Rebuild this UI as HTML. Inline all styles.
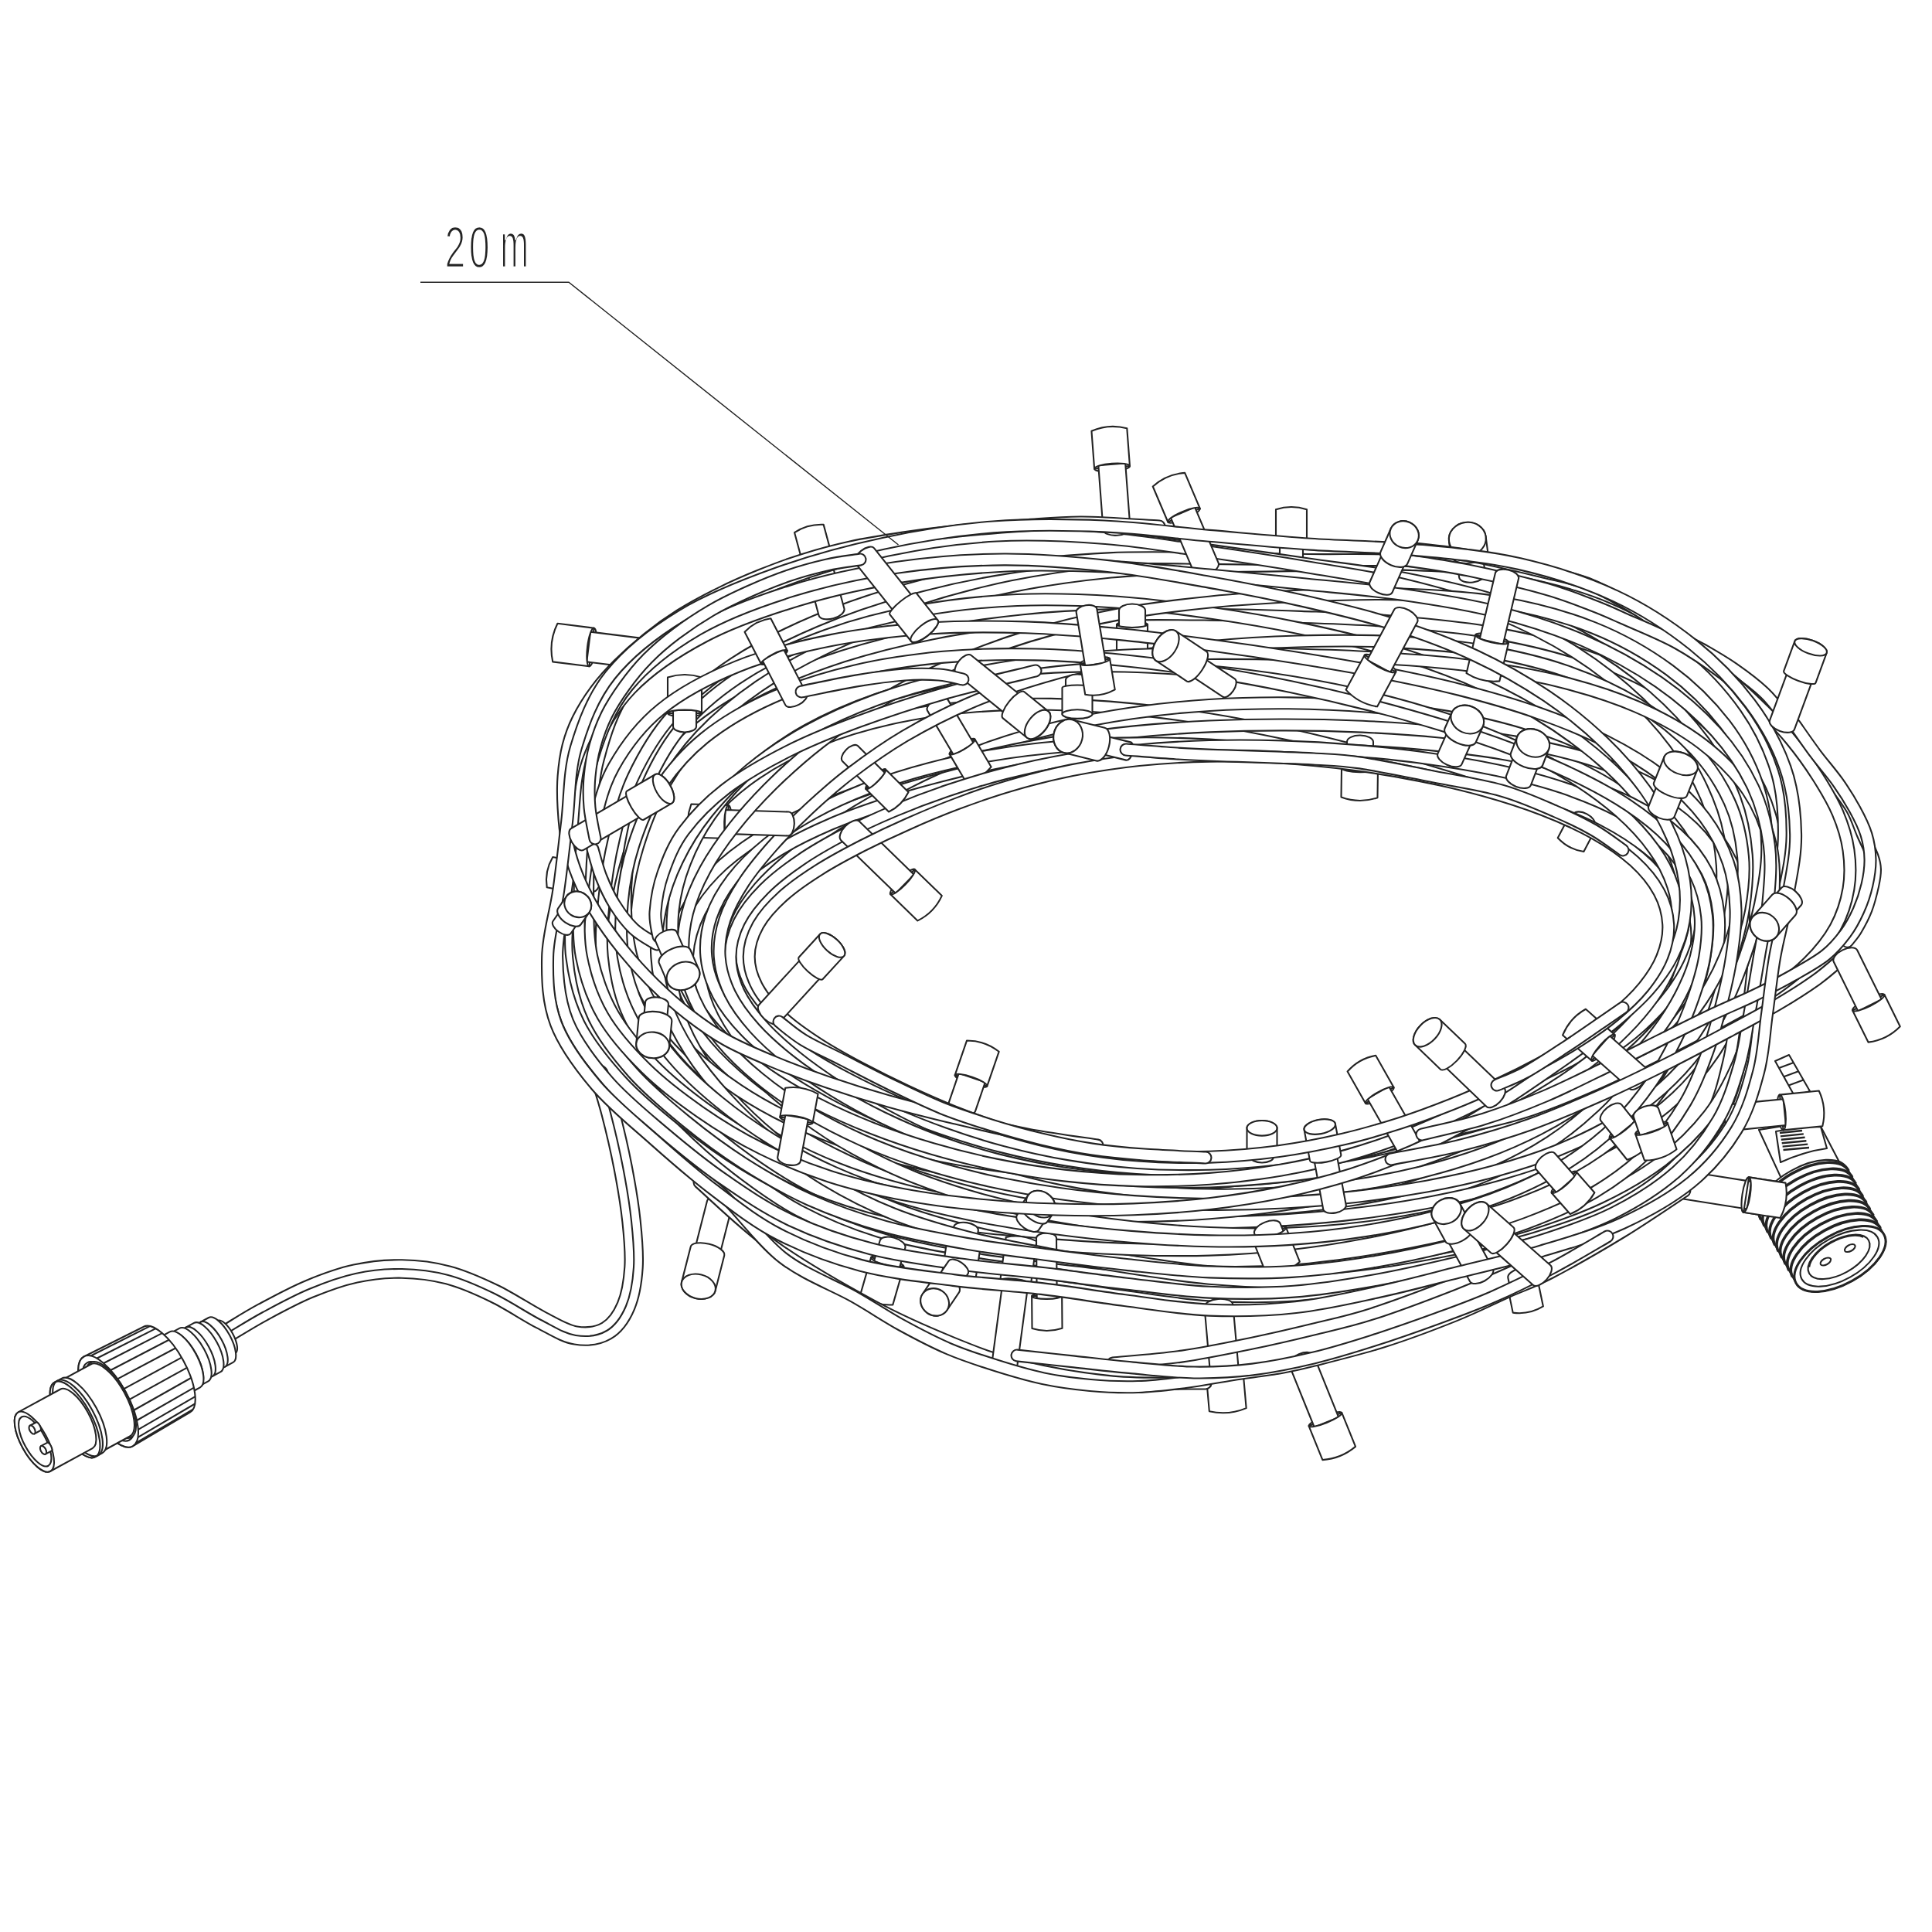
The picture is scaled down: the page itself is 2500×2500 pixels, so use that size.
<!DOCTYPE html><html><head><meta charset="utf-8"><title>20 m</title>
<style>html,body{margin:0;padding:0;background:#fff}svg{display:block}.o{fill:none;stroke:#232323;stroke-width:17;stroke-linecap:round;stroke-linejoin:round}.i{fill:none;stroke:#fff;stroke-width:12.8;stroke-linecap:round;stroke-linejoin:round}.b{stroke-linecap:butt}.l{fill:#fff;stroke:#232323;stroke-width:2.1;stroke-linejoin:round}.t text{font-family:"Liberation Sans",sans-serif;font-size:75.5px;fill:#232323;stroke:#fff;stroke-width:2.4px;paint-order:fill stroke}</style>
</head><body>
<svg width="2500" height="2500" viewBox="0 0 2500 2500">
<defs><path id="w1" d="M296 1724C303.3 1719.7 322.7 1707.3 340 1698C357.3 1688.7 380 1676.3 400 1668C420 1659.7 440 1652.3 460 1648C480 1643.7 500 1641.7 520 1642C540 1642.3 560 1644.7 580 1650C600 1655.3 620 1664.3 640 1674C660 1683.7 682.5 1699 700 1708C717.5 1717 730.8 1725.7 745 1728C759.2 1730.3 774.2 1728.3 785 1722C795.8 1715.7 804.2 1703.7 810 1690C815.8 1676.3 818.8 1658.3 820 1640C821.2 1621.7 819.3 1601.7 817 1580C814.7 1558.3 810.5 1533.3 806 1510C801.5 1486.7 795.2 1460 790 1440C784.8 1420 777.5 1398.3 775 1390"/><path id="w2" d="M1500 681C1483.3 680.2 1429.2 676.2 1400 676C1370.8 675.8 1351.7 678.2 1325 680C1298.3 681.8 1266 684.3 1240 687C1214 689.7 1192.3 692.5 1169 696C1145.7 699.5 1121.5 703.3 1100 708C1078.5 712.7 1059.2 718 1040 724C1020.8 730 1003.2 736.7 985 744C966.8 751.3 948.5 759.3 931 768C913.5 776.7 895.5 786.3 880 796C864.5 805.7 851.3 815.3 838 826C824.7 836.7 811.2 848.8 800 860C788.8 871.2 779.7 881.3 771 893C762.3 904.7 754 918 748 930C742 942 738.2 952.5 735 965C731.8 977.5 730 991.7 729 1005C728 1018.3 728.2 1030.8 729 1045C729.8 1059.2 730.8 1075 734 1090C737.2 1105 741.8 1120 748 1135C754.2 1150 761.3 1164.3 771 1180C780.7 1195.7 793.5 1213.5 806 1229C818.5 1244.5 832 1259.2 846 1273C860 1286.8 874.3 1299.8 890 1312C905.7 1324.2 921.5 1335.7 940 1346C958.5 1356.3 979.3 1365 1001 1374C1022.7 1383 1045.2 1391.5 1070 1400C1094.8 1408.5 1122.3 1417.2 1150 1425C1177.7 1432.8 1206 1439.8 1236 1447C1266 1454.2 1299.3 1462.2 1330 1468C1360.7 1473.8 1405 1479.7 1420 1482"/><path id="w3" d="M767 1099C768.8 1105 773.3 1123.2 778 1135C782.7 1146.8 788 1158.8 795 1170C802 1181.2 810.8 1193.3 820 1202C829.2 1210.7 845 1218.7 850 1222"/><path id="w4" d="M1340 868C1320 873 1258.3 887 1220 898C1181.7 909 1143.3 921.7 1110 934C1076.7 946.3 1048.3 957.7 1020 972C991.7 986.3 962.5 1002.8 940 1020C917.5 1037.2 898.7 1056.7 885 1075C871.3 1093.3 864.2 1112.5 858 1130C851.8 1147.5 849 1166.3 848 1180C847 1193.7 851.3 1206.7 852 1212"/><path id="w5" d="M2322 937C2326.5 943.3 2339.7 962.5 2349 975C2358.3 987.5 2369.5 1000 2378 1012C2386.5 1024 2393.8 1035.7 2400 1047C2406.2 1058.3 2411.7 1069.2 2415 1080C2418.3 1090.8 2419.8 1101.2 2420 1112C2420.2 1122.8 2418.5 1134 2416 1145C2413.5 1156 2409.7 1167.5 2405 1178C2400.3 1188.5 2395.2 1198.3 2388 1208C2380.8 1217.7 2373.3 1227 2362 1236C2350.7 1245 2335.3 1253.3 2320 1262C2304.7 1270.7 2287.5 1279.5 2270 1288C2252.5 1296.5 2235 1303.5 2215 1313C2195 1322.5 2172.5 1333.8 2150 1345C2127.5 1356.2 2105 1367.8 2080 1380C2055 1392.2 2026.7 1406.7 2000 1418C1973.3 1429.3 1946.7 1439.7 1920 1448C1893.3 1456.3 1853.3 1464.7 1840 1468"/><path id="w6" d="M1805.9 707.4C1821.3 709.3 1866.4 712.9 1898.4 718.4C1930.4 723.8 1971.1 733.8 1997.8 740.2C2024.5 746.6 2038.2 748.7 2058.4 756.8C2078.7 765 2102 778.9 2119.1 789.2C2136.2 799.4 2147.2 809.6 2161 818.1C2174.9 826.6 2188.7 832.5 2202.3 840.2C2215.9 848 2229 855.4 2242.6 864.8C2256.1 874.2 2271.9 885.9 2283.4 896.9C2294.9 907.9 2301.8 918.1 2311.5 930.8C2321.1 943.4 2330.9 958.5 2341.4 972.7C2351.8 986.8 2365.1 1003.1 2374.4 1015.6C2383.6 1028.1 2390.7 1037 2396.7 1047.6C2402.7 1058.3 2405.9 1069.7 2410.3 1079.8C2414.7 1089.9 2420.3 1100.5 2423 1108.1C2425.7 1115.7 2426.4 1118.9 2426.5 1125.2C2426.6 1131.5 2425.6 1137.4 2423.7 1146C2421.8 1154.5 2418.8 1167.1 2415.1 1176.6C2411.5 1186.1 2405.9 1196.2 2401.8 1203.2C2397.7 1210.1 2392.3 1215.8 2390.4 1218.3"/><path id="w7" d="M1800 722C1816.7 724.7 1866.7 731.3 1900 738C1933.3 744.7 1973.3 754.5 2000 762C2026.7 769.5 2043.3 776.7 2060 783C2076.7 789.3 2081.7 791.8 2100 800C2118.3 808.2 2148.3 820 2170 832C2191.7 844 2212.5 858.7 2230 872C2247.5 885.3 2260.3 897.7 2275 912C2289.7 926.3 2305.2 942.5 2318 958C2330.8 973.5 2342 989.3 2352 1005C2362 1020.7 2371.3 1036.2 2378 1052C2384.7 1067.8 2389.7 1083.7 2392 1100C2394.3 1116.3 2394.8 1133.3 2392 1150C2389.2 1166.7 2383.7 1184.2 2375 1200C2366.3 1215.8 2354.2 1230.8 2340 1245C2325.8 1259.2 2308.3 1272.5 2290 1285C2271.7 1297.5 2253.3 1307.2 2230 1320C2206.7 1332.8 2178.3 1347.8 2150 1362C2121.7 1376.2 2090 1392 2060 1405C2030 1418 2000 1430.5 1970 1440C1940 1449.5 1895 1458.3 1880 1462"/><path id="w8" d="M2384 1240C2378.3 1244.7 2364 1258 2350 1268C2336 1278 2318.3 1289.2 2300 1300C2281.7 1310.8 2263.3 1320.5 2240 1333C2216.7 1345.5 2188.3 1360.8 2160 1375C2131.7 1389.2 2100 1404.7 2070 1418C2040 1431.3 2010 1444.3 1980 1455C1950 1465.7 1920 1474.5 1890 1482C1860 1489.5 1815 1497 1800 1500"/><path id="w9" d="M891.8 1512.5C899.3 1518.3 916.4 1527.9 936.5 1547.1C956.7 1566.3 984.8 1605.7 1012.8 1627.5C1040.9 1649.3 1079.1 1663.2 1104.7 1677.7C1130.3 1692.3 1146.1 1703.4 1166.6 1714.7C1187.1 1725.9 1207.4 1736.6 1227.7 1745.3C1248.1 1754 1268.5 1760.5 1288.9 1766.9C1309.2 1773.3 1329.6 1779.4 1349.9 1783.7C1370.3 1788 1390.4 1790.7 1410.8 1792.5C1431.3 1794.3 1452.2 1795.2 1472.7 1794.5C1493.2 1793.8 1513.3 1791.2 1533.8 1788.6C1554.3 1785.9 1575 1781.8 1595.6 1778.6C1616.2 1775.5 1640.3 1772.6 1657.4 1769.6C1674.4 1766.7 1675.5 1766.4 1697.7 1760.8C1719.8 1755.2 1759.3 1745.7 1790.1 1735.9C1820.9 1726.2 1855.6 1713 1882.5 1702.2C1909.3 1691.4 1930.4 1680.6 1951.1 1671.3C1971.8 1662.1 1981.9 1659.5 2006.6 1646.6C2031.3 1633.7 2070.2 1611.5 2099.1 1593.9C2127.9 1576.3 2166.3 1549.9 2179.8 1541.1"/><path id="w10" d="M1316 1754C1328.3 1755.3 1365 1759.3 1390 1762C1415 1764.7 1440.2 1767.7 1466 1770C1491.8 1772.3 1519.2 1775.7 1545 1776C1570.8 1776.3 1595.2 1775.2 1621 1772C1646.8 1768.8 1674.2 1763.2 1700 1757C1725.8 1750.8 1749.3 1743.5 1776 1735C1802.7 1726.5 1834 1715.5 1860 1706C1886 1696.5 1907 1689 1932 1678C1957 1667 1985.3 1653 2010 1640C2034.7 1627 2068.3 1606.7 2080 1600"/><path id="w11" d="M905 1530C920.8 1543.7 962.7 1585.3 1000 1612C1037.3 1638.7 1090.2 1669 1129 1690C1167.8 1711 1201 1725 1233 1738C1265 1751 1286.5 1759.7 1321 1768C1355.5 1776.3 1400.2 1784.3 1440 1788C1479.8 1791.7 1540 1789.7 1560 1790"/><path id="w12" d="M1440 1764C1455 1762.5 1499.8 1759.3 1530 1755C1560.2 1750.7 1592.7 1743.8 1621 1738C1649.3 1732.2 1674.2 1726.3 1700 1720C1725.8 1713.7 1746 1709.7 1776 1700C1806 1690.3 1849.3 1674 1880 1662C1910.7 1650 1933.3 1640 1960 1628C1986.7 1616 2026.7 1596.3 2040 1590"/><path id="w13" d="M2178.8 1238C2176.3 1253.6 2170.7 1269.5 2164.2 1285.5C2157.7 1301.5 2149.4 1317.6 2139.8 1333.9C2130.2 1350.2 2119.6 1366.8 2106.8 1383.2C2094 1399.6 2080 1416.4 2063.1 1432.1C2046.3 1447.9 2027.3 1463.7 2005.8 1477.7C1984.3 1491.7 1960 1504.9 1934.2 1516.3C1908.5 1527.6 1880.1 1537.5 1851.1 1545.8C1822.1 1554.1 1791.3 1560.8 1760.1 1566.1C1728.9 1571.4 1696.4 1575.2 1663.9 1577.7C1631.4 1580.1 1598 1581.1 1565 1580.8C1532 1580.6 1498.5 1579 1465.6 1576.4C1432.8 1573.7 1399.9 1570 1367.9 1565.1C1335.8 1560.2 1304 1554.3 1273.5 1547.1C1243 1539.8 1213 1531.4 1184.7 1521.7C1156.4 1512 1129.1 1500.9 1103.5 1488.8C1077.8 1476.8 1053.5 1463.5 1030.7 1449.3C1008 1435.2 986.5 1420 967.1 1404.1C947.7 1388.1 929.4 1371.1 914.4 1353.4C899.3 1335.7 886 1316.9 876.6 1297.7C867.2 1278.4 860.7 1258.2 857.7 1238C854.7 1217.8 855.2 1196.8 858.7 1176.2C862.1 1155.6 868.7 1134.4 878.6 1114.1C888.5 1093.8 901.4 1073.2 918.1 1054.3C934.8 1035.4 955.2 1016.9 978.7 1000.9C1002.1 985 1029.8 970.4 1058.8 958.6C1087.9 946.7 1120.3 937.1 1153 929.8C1185.6 922.4 1220.4 917.7 1254.9 914.6C1289.3 911.5 1324.7 910.8 1359.5 911.3C1394.3 911.8 1429.4 914.2 1463.6 917.5C1497.9 920.7 1531.9 925.3 1565 930.6C1598.1 935.9 1630.7 942.3 1662.1 949C1693.6 955.8 1724.3 963.5 1754 971.2C1783.6 979 1812.3 987.2 1840.2 995.5C1868.1 1003.7 1895.2 1012.1 1921.4 1020.6C1947.6 1029.2 1973.4 1037.7 1997.5 1046.9C2021.6 1056.1 2045.3 1065.4 2066.1 1075.9C2086.9 1086.3 2106.5 1097.3 2122.3 1109.4C2138.1 1121.5 2151.4 1134.6 2160.9 1148.3C2170.4 1162 2176.2 1176.8 2179.2 1191.8C2182.2 1206.7 2181.3 1222.4 2178.8 1238Z"/><path id="w14" d="M2285.5 1238C2282 1261.9 2279.3 1285 2275.9 1309.1C2272.4 1333.2 2271.2 1357.9 2264.8 1382.6C2258.4 1407.2 2251.3 1433.2 2237.3 1456.8C2223.3 1480.5 2204.5 1504.3 2180.7 1524.4C2156.9 1544.4 2126.1 1562.2 2094.5 1577C2063 1591.8 2026.2 1602.7 1991.5 1613C1956.7 1623.3 1920.8 1631 1885.9 1639.1C1850.9 1647.1 1817 1655.2 1781.8 1661.3C1746.6 1667.5 1711 1673.7 1674.8 1676.1C1638.7 1678.6 1601.2 1678.1 1565 1675.9C1528.8 1673.6 1493 1667.5 1457.4 1662.7C1421.8 1657.9 1387.4 1652.2 1351.6 1647C1315.7 1641.9 1278.8 1638.3 1242.3 1631.7C1205.8 1625.2 1167.3 1618.5 1132.6 1607.6C1098 1596.8 1064.4 1582.7 1034.5 1566.9C1004.7 1551 978.6 1531.7 953.6 1512.5C928.6 1493.2 905.8 1472.6 884.5 1451.4C863.3 1430.2 842.1 1408.2 825.9 1385.2C809.8 1362.2 795.9 1337.7 787.6 1313.1C779.3 1288.6 776.7 1263 776.2 1238C775.6 1213 779.8 1188.1 784.4 1163.2C789 1138.3 794.7 1113.4 803.8 1088.6C812.8 1063.9 822.8 1038.4 838.7 1014.8C854.6 991.2 874.6 967.6 899.2 946.9C923.7 926.3 954 907.4 985.9 891.1C1017.9 874.8 1054.2 861.1 1090.7 849.2C1127.3 837.4 1166.2 827.9 1205.2 820.1C1244.2 812.3 1284.5 806.7 1324.6 802.6C1364.6 798.4 1405.3 796.6 1445.4 795.3C1485.5 794.1 1525.3 794.7 1565 795.2C1604.7 795.6 1643.8 796.8 1683.5 798.3C1723.2 799.8 1763.1 800.9 1803.2 804.1C1843.3 807.4 1884.5 810.8 1923.9 817.5C1963.3 824.3 2003.4 832.9 2039.6 844.6C2075.8 856.4 2110.9 871.3 2141.2 888.2C2171.4 905.2 2199 925.2 2221.2 946.3C2243.5 967.5 2261.8 991.3 2274.6 1015.3C2287.4 1039.3 2294.5 1065.3 2298.2 1090.3C2302 1115.4 2299.1 1141.1 2297 1165.8C2294.9 1190.4 2289 1214.1 2285.5 1238Z"/><path id="w15" d="M2273.1 1238C2265.5 1260.8 2258.4 1282.3 2248.9 1303.4C2239.5 1324.4 2229.6 1344.9 2216.4 1364.2C2203.2 1383.6 2187.8 1402.3 2169.5 1419.5C2151.2 1436.6 2129.8 1452.6 2106.6 1466.9C2083.4 1481.2 2057.3 1493.9 2030.4 1505C2003.5 1516.2 1974.5 1525.6 1945.2 1533.9C1916 1542.3 1885.5 1549 1854.8 1555C1824.1 1561 1792.7 1565.8 1760.9 1569.7C1729.1 1573.7 1696.7 1576.6 1664 1578.7C1631.4 1580.8 1598.1 1581.8 1565 1582C1531.9 1582.2 1498.4 1581.4 1465.3 1579.8C1432.2 1578.2 1399.1 1575.8 1366.3 1572.5C1333.6 1569.3 1300.8 1565.4 1268.6 1560.1C1236.4 1554.8 1204.1 1548.8 1173.2 1540.7C1142.2 1532.7 1111.6 1523.3 1083 1511.9C1054.4 1500.6 1027 1487.4 1001.6 1472.8C976.3 1458.3 952.4 1442 930.8 1424.7C909.1 1407.4 888.6 1388.6 871.8 1368.8C855 1349 840.2 1327.7 829.9 1305.9C819.6 1284.1 813.4 1261 810.2 1238C806.9 1215 807.9 1191.5 810.4 1167.8C812.9 1144.1 817.7 1120.1 825.2 1096C832.6 1071.9 841.5 1047 855.1 1023C868.6 998.9 885.2 974.4 906.4 951.8C927.6 929.3 953.6 907.4 982.3 887.8C1011.1 868.1 1044.3 850.1 1078.9 833.9C1113.4 817.7 1151.1 803.1 1189.6 790.5C1228.2 778 1269.1 767 1310.3 758.6C1351.6 750.2 1394.7 744.3 1437.2 740.1C1479.6 736 1522.4 735 1565 733.6C1607.6 732.1 1649.3 731.9 1692.5 731.4C1735.8 730.9 1779.9 728.8 1824.6 730.4C1869.2 732.1 1916.9 733.5 1960.4 741.4C2003.9 749.2 2048.1 761.4 2085.8 777.6C2123.4 793.8 2157.6 815.7 2186.4 838.7C2215.2 861.6 2239.5 888.5 2258.4 915.3C2277.2 942.2 2291 971.6 2299.3 1000C2307.6 1028.5 2308.9 1058.4 2308.2 1086.1C2307.4 1113.8 2300.4 1141 2294.5 1166.3C2288.7 1191.6 2280.8 1215.2 2273.1 1238Z"/><path id="w16" d="M2189.8 1238C2183.1 1254.4 2173.6 1270.2 2162.6 1285.1C2151.5 1300 2138.2 1314.2 2123.6 1327.4C2109 1340.6 2092.4 1352.9 2075 1364.4C2057.5 1375.8 2038.3 1386.3 2018.6 1396.1C1998.9 1406 1978.1 1414.8 1956.7 1423.3C1935.3 1431.8 1913.3 1439.5 1890.3 1447C1867.4 1454.4 1843.9 1461.4 1819 1468C1794.2 1474.5 1768.4 1480.8 1741.2 1486C1714.1 1491.3 1685.4 1496.2 1656 1499.6C1626.7 1502.9 1595.6 1505.5 1565 1506.3C1534.4 1507.1 1502.5 1506.5 1472.2 1504.5C1441.8 1502.4 1411.3 1498.6 1382.7 1493.8C1354 1489.1 1326.4 1482.7 1300.4 1475.8C1274.4 1468.9 1250 1460.9 1226.6 1452.5C1203.1 1444.2 1181.1 1435.2 1159.5 1425.8C1138 1416.3 1117.3 1406.5 1097.5 1396C1077.6 1385.5 1058 1374.5 1040.5 1362.7C1022.9 1350.8 1005.8 1338.3 992.1 1325C978.5 1311.7 966.3 1297.5 958.4 1283C950.5 1268.5 945.6 1253.1 944.8 1238C944 1222.9 947.3 1207.4 953.5 1192.5C959.7 1177.6 970.2 1162.8 982.2 1148.7C994.3 1134.5 1009.6 1120.9 1025.7 1107.6C1041.7 1094.3 1059.7 1081.6 1078.5 1069.1C1097.3 1056.5 1117.1 1044.3 1138.2 1032.4C1159.4 1020.5 1181.5 1008.8 1205.5 997.8C1229.5 986.8 1254.9 976.1 1282.2 966.6C1309.4 957.1 1338.7 948.3 1369.1 941C1399.4 933.7 1431.8 927.5 1464.4 922.8C1497.1 918 1531.1 914.6 1565 912.5C1598.9 910.3 1633.5 909.5 1667.8 909.8C1702.1 910.1 1736.7 911.5 1770.8 914.4C1804.8 917.3 1839.2 921.3 1872.2 927.2C1905.2 933.2 1938.2 940.5 1968.7 949.9C1999.1 959.3 2028.9 970.6 2054.8 983.4C2080.8 996.3 2104.8 1011.3 2124.5 1027.1C2144.2 1042.8 2160.6 1060.5 2173 1078.1C2185.3 1095.6 2193.5 1114.4 2198.5 1132.5C2203.5 1150.6 2204.4 1169.1 2202.9 1186.7C2201.5 1204.2 2196.6 1221.6 2189.8 1238Z"/><path id="w17" d="M2254.6 1238C2253.3 1259.3 2250.4 1280.7 2247.5 1303.1C2244.6 1325.4 2242.8 1348.7 2237.2 1372.2C2231.6 1395.7 2226.1 1420.9 2213.9 1444.2C2201.8 1467.5 2185.8 1491.6 2164.3 1511.9C2142.7 1532.1 2114.3 1550.6 2084.5 1565.7C2054.8 1580.8 2019.4 1592.1 1985.6 1602.3C1951.8 1612.4 1916.4 1619.8 1881.8 1626.7C1847.2 1633.6 1812.9 1639.7 1777.9 1643.7C1742.9 1647.8 1707.4 1650.8 1671.9 1651.1C1636.4 1651.5 1600.2 1649 1565 1645.8C1529.8 1642.6 1495 1636.9 1460.4 1631.6C1425.9 1626.4 1391.9 1620.7 1357.9 1614.4C1323.8 1608.1 1289.3 1602 1256.2 1593.7C1223 1585.3 1189.5 1575.9 1159 1564.1C1128.5 1552.4 1099.3 1538.3 1073.1 1523.2C1046.8 1508 1023 1490.7 1001.3 1473.1C979.7 1455.5 960.1 1436.7 943.2 1417.6C926.3 1398.6 911.2 1378.6 899.8 1358.7C888.3 1338.8 879.5 1318.2 874.6 1298C869.6 1277.9 867.9 1257.5 870 1238C872 1218.5 877.5 1199.1 886.6 1181C895.6 1162.9 908.6 1145.4 924.3 1129.4C939.9 1113.4 959.6 1098.6 980.5 1085.2C1001.3 1071.8 1025.3 1060 1049.4 1049.2C1073.5 1038.3 1099.3 1029 1125 1020.1C1150.8 1011.3 1177.2 1003.5 1204.2 996.1C1231.1 988.7 1258.5 981.9 1286.9 975.7C1315.4 969.5 1344.6 963.8 1374.8 959C1405 954.2 1436.3 950 1468 946.8C1499.7 943.6 1532.4 941.4 1565 939.9C1597.6 938.4 1630.7 937.8 1663.7 937.9C1696.8 937.9 1729.9 938.7 1763.1 940.2C1796.3 941.7 1829.8 943.8 1862.9 947.1C1896 950.4 1929.6 954.3 1961.8 960.2C1994 966 2026.5 973 2055.9 982.2C2085.4 991.4 2114.1 1002.5 2138.3 1015.6C2162.6 1028.6 2184.4 1043.9 2201.4 1060.5C2218.4 1077 2231.2 1095.8 2240.3 1114.9C2249.3 1134 2253.2 1154.6 2255.6 1175.1C2258 1195.7 2256 1216.7 2254.6 1238Z"/><path id="w18" d="M2164.8 1238C2157.7 1252.6 2147.8 1266.5 2136.6 1279.7C2125.4 1292.8 2111.8 1305.1 2097.7 1316.9C2083.5 1328.7 2067.7 1339.7 2051.6 1350.5C2035.5 1361.3 2018.6 1371.6 2001.2 1381.9C1983.7 1392.3 1965.9 1402.4 1947.1 1412.6C1928.2 1422.8 1908.8 1433.1 1887.8 1443C1866.8 1452.9 1844.8 1463 1820.8 1472.2C1796.9 1481.4 1771.2 1490.5 1744.1 1498.2C1716.9 1505.9 1687.8 1512.9 1657.9 1518.4C1628.1 1523.8 1596.4 1528.1 1565 1530.9C1533.6 1533.8 1501.1 1535.1 1469.4 1535.3C1437.7 1535.5 1405.8 1534.3 1374.7 1532.1C1343.6 1529.9 1313 1526.5 1282.9 1522.2C1252.8 1517.9 1223.2 1512.7 1194.1 1506.1C1165.1 1499.5 1136.4 1492 1108.8 1482.9C1081.2 1473.7 1053.9 1463.3 1028.4 1451.2C1002.9 1439.2 978.1 1425.6 955.6 1410.6C933 1395.5 911.5 1379 893.1 1361.1C874.7 1343.2 857.9 1323.7 845.3 1303.2C832.7 1282.7 823.3 1260.6 817.3 1238C811.3 1215.4 809.5 1191.8 809.3 1167.6C809.1 1143.4 811.3 1118.4 816.1 1092.9C820.9 1067.4 826.5 1040.4 838 1014.4C849.4 988.5 864 961.3 885 937.4C906.1 913.5 933.5 890.4 964.3 871.2C995.1 851.9 1032.1 835.4 1069.6 821.9C1107.1 808.4 1148.4 797.9 1189.5 790.4C1230.6 782.8 1273.9 778.3 1316.1 776.5C1358.4 774.6 1401.5 776.3 1443 779C1484.4 781.8 1525.3 787.2 1565 792.9C1604.7 798.5 1643.5 805.1 1681.5 812.9C1719.4 820.8 1757 829.3 1792.7 839.8C1828.5 850.4 1863.7 862.5 1896.2 876.2C1928.6 889.9 1959.5 905.7 1987.3 922.1C2015 938.6 2040.4 956.8 2062.5 975C2084.6 993.1 2103.7 1012.4 2119.6 1031.2C2135.5 1049.9 2148.1 1069.1 2157.7 1087.5C2167.3 1105.9 2173.6 1124.1 2177.1 1141.5C2180.7 1158.9 2181.1 1175.7 2179 1191.8C2177 1207.9 2171.8 1223.4 2164.8 1238Z"/><path id="w19" d="M2287.5 1238C2281.5 1262.1 2277 1284.9 2270.5 1308C2264.1 1331.1 2258.7 1354.1 2248.8 1376.6C2238.9 1399.1 2227.4 1421.8 2211.2 1442.7C2194.9 1463.6 2174.7 1484 2151.2 1501.9C2127.8 1519.7 2099.6 1535.9 2070.4 1549.8C2041.2 1563.7 2008.4 1575.1 1976.1 1585.4C1943.8 1595.7 1910 1603.8 1876.5 1611.5C1843 1619.1 1809.3 1625.9 1775.1 1631.3C1740.9 1636.8 1706.1 1641.5 1671.1 1644C1636.1 1646.4 1600.2 1646.9 1565 1645.9C1529.8 1645 1494.7 1641.5 1459.8 1638.3C1424.9 1635 1390.6 1630.9 1355.5 1626.5C1320.5 1622.1 1284.7 1618.3 1249.4 1612C1214.2 1605.7 1177.6 1598.8 1144.1 1588.7C1110.6 1578.6 1077.8 1565.8 1048.3 1551.2C1018.8 1536.6 992.3 1519.1 967.1 1501.2C941.9 1483.3 918.9 1464 897.4 1443.9C875.8 1423.9 854.8 1403 837.9 1380.9C821.1 1358.9 806.1 1335.5 796.3 1311.7C786.5 1287.8 781.7 1262.8 779.3 1238C776.9 1213.2 779.3 1188.2 781.8 1162.7C784.3 1137.3 788.2 1111.6 794.5 1085.4C800.7 1059.1 807 1031.6 819.4 1005.2C831.9 978.7 847.4 951.2 869.2 926.7C890.9 902.2 919 878.6 950.1 858.1C981.1 837.6 1018 819.6 1055.5 803.7C1092.9 787.7 1133.7 774 1174.9 762.6C1216.1 751.2 1259.4 741.7 1302.7 735C1346 728.4 1390.9 724.9 1434.6 722.8C1478.3 720.6 1521.9 722.1 1565 722.4C1608.1 722.7 1649.9 723.8 1693.4 724.4C1736.9 725 1781.2 723.5 1825.9 725.8C1870.7 728 1918.4 729.9 1962.1 738C2005.7 746.1 2050 758.2 2088 774.3C2126 790.5 2160.6 812.1 2190 834.8C2219.4 857.5 2244.5 883.8 2264.2 910.5C2283.9 937.1 2298.9 966.2 2308 994.7C2317.2 1023.1 2319.4 1053.3 2319.1 1081.4C2318.8 1109.6 2311.7 1137.5 2306.4 1163.5C2301.1 1189.6 2293.5 1213.9 2287.5 1238Z"/><path id="w20" d="M2241.1 1238C2234.8 1258.3 2227.3 1277.7 2218.6 1297C2209.9 1316.2 2200.6 1335 2189.1 1353.5C2177.6 1372.1 2165 1390.5 2149.7 1408.2C2134.5 1425.9 2117.2 1443.4 2097.4 1459.6C2077.5 1475.8 2055 1491.4 2030.6 1505.3C2006.2 1519.3 1979.1 1532 1950.9 1543.2C1922.8 1554.5 1892.6 1564.2 1861.9 1572.8C1831.2 1581.4 1799.2 1588.8 1766.8 1595C1734.4 1601.2 1701 1606.4 1667.3 1610.1C1633.7 1613.8 1599.2 1616.2 1565 1617.2C1530.8 1618.3 1496.3 1617.6 1461.9 1616.5C1427.5 1615.4 1393.4 1613.2 1358.6 1610.6C1323.9 1608 1288.7 1605.4 1253.6 1600.7C1218.4 1596.1 1181.9 1591.1 1147.7 1582.8C1113.4 1574.6 1079.3 1564.1 1048.2 1551.3C1017.2 1538.5 988.7 1522.6 961.4 1505.9C934.2 1489.3 909.1 1470.7 884.8 1451.3C860.4 1431.8 835.5 1411.3 815.1 1389C794.7 1366.7 774.8 1342.6 762.2 1317.4C749.7 1292.2 743.1 1265 739.7 1238C736.2 1211 740.2 1183.6 741.4 1155.4C742.6 1127.1 744.5 1098.8 747 1068.5C749.5 1038.2 748.2 1005.3 756.6 973.7C765 942 775.8 907.6 797.4 878.7C819 849.7 851 822.3 886.3 799.9C921.7 777.5 966.1 759.6 1009.4 744.2C1052.6 728.8 1099.5 716.7 1145.9 707.7C1192.4 698.7 1240.8 692.6 1288.2 690.4C1335.6 688.2 1384.3 691 1430.4 694.6C1476.6 698.2 1521.3 706.1 1565 712C1608.7 717.8 1650.3 723.8 1692.7 729.9C1735.1 736 1777.7 740.5 1819.3 748.8C1860.9 757 1903.4 766.3 1942.1 779.4C1980.8 792.5 2018.3 809.2 2051.3 827.5C2084.2 845.9 2114.2 867.6 2139.9 889.6C2165.5 911.7 2187.5 935.8 2205.1 959.8C2222.6 983.8 2235.8 1009.1 2245 1033.5C2254.2 1058 2258.4 1082.9 2260.3 1106.4C2262.2 1130 2259.7 1153 2256.5 1174.9C2253.3 1196.9 2247.4 1217.7 2241.1 1238Z"/><path id="w21" d="M2206.2 1238C2198.5 1255.7 2188.9 1272.3 2178 1288.4C2167.1 1304.4 2154.5 1319.6 2140.8 1334.3C2127.1 1349 2112 1363 2095.8 1376.7C2079.6 1390.4 2062.2 1403.5 2043.5 1416.3C2024.8 1429 2005 1441.4 1983.7 1453.2C1962.4 1465 1939.9 1476.4 1915.8 1487C1891.8 1497.6 1866.2 1507.7 1839.2 1516.7C1812.3 1525.7 1783.7 1534 1754.2 1541C1724.6 1548.1 1693.5 1554.1 1662 1558.9C1630.5 1563.7 1597.7 1567.4 1565 1569.8C1532.3 1572.3 1498.9 1573.5 1465.9 1573.7C1432.8 1573.9 1399.7 1572.9 1366.6 1571.1C1333.6 1569.2 1300.5 1566.6 1267.7 1562.6C1234.8 1558.5 1201.6 1553.8 1169.5 1546.8C1137.5 1539.8 1105.3 1531.3 1075.3 1520.6C1045.3 1510 1016.5 1497.1 989.4 1482.8C962.4 1468.5 936.9 1452.3 913 1434.9C889 1417.5 865.6 1398.7 845.6 1378.2C825.7 1357.7 806.7 1335.5 793.3 1312.2C780 1288.8 771.2 1263.5 765.8 1238C760.4 1212.5 761 1186.2 760.7 1158.9C760.4 1131.7 761.7 1104 763.9 1074.6C766.2 1045.2 766 1013.4 774.2 982.5C782.4 951.6 792.6 918 813.1 889.1C833.5 860.2 863.1 832.3 896.7 809.3C930.4 786.3 972.8 767.3 1014.8 751.2C1056.7 735 1102.6 721.9 1148.3 712.2C1194.1 702.6 1242 695.8 1289.1 693.1C1336.1 690.5 1384.7 693 1430.7 696.5C1476.7 700 1521.4 708 1565 714.2C1608.6 720.5 1650.2 726.9 1692.2 733.9C1734.2 741 1776.4 746.7 1817.1 756.4C1857.7 766.2 1898.9 777.4 1936 792.2C1973.1 806.9 2008.5 825.3 2039.4 844.9C2070.4 864.5 2098.1 887.1 2121.6 909.7C2145.1 932.3 2164.8 956.7 2180.5 980.4C2196.1 1004.1 2207.4 1028.6 2215.4 1051.8C2223.3 1075.1 2226.9 1098.2 2228.3 1119.9C2229.7 1141.7 2227.5 1162.4 2223.8 1182.1C2220.1 1201.8 2213.8 1220.3 2206.2 1238Z"/><path id="w22" d="M2221.1 1238C2218.3 1256.7 2213.1 1275.5 2206.9 1294.5C2200.8 1313.4 2193.7 1332.6 2184.4 1351.7C2175.1 1370.8 2164.8 1390.3 2151 1408.9C2137.3 1427.5 2121.3 1446.4 2102 1463.2C2082.6 1480.1 2059.8 1496.3 2034.9 1510.1C2010.1 1524 1981.8 1536.1 1952.9 1546.4C1924 1556.8 1892.9 1565 1861.6 1572C1830.3 1579 1797.9 1584.4 1765.3 1588.4C1732.6 1592.4 1699.2 1594.9 1665.9 1596.1C1632.5 1597.3 1598.5 1596.9 1565 1595.5C1531.5 1594.1 1497.7 1591.3 1464.6 1587.6C1431.5 1583.9 1398.3 1579.3 1366.1 1573.5C1333.9 1567.7 1301.8 1560.9 1271.4 1552.6C1241 1544.3 1211.2 1534.6 1183.6 1523.6C1155.9 1512.5 1129.8 1499.8 1105.6 1486.4C1081.5 1473 1059.1 1458.2 1038.7 1443C1018.2 1427.8 999.3 1411.6 982.8 1395.2C966.2 1378.7 951.2 1361.6 939.4 1344.3C927.6 1327 917.8 1309.1 912 1291.3C906.2 1273.6 903.3 1255.5 904.4 1238C905.6 1220.5 910.5 1203 918.9 1186.6C927.4 1170.2 940.1 1154.2 955.1 1139.7C970.1 1125.1 989.1 1111.6 1009.1 1099.4C1029 1087.2 1051.8 1076.4 1074.7 1066.5C1097.6 1056.6 1122 1048.1 1146.4 1040.1C1170.9 1032 1195.8 1025 1221.4 1018.4C1246.9 1011.8 1272.9 1005.7 1299.8 1000.3C1326.8 994.8 1354.6 989.7 1383.3 985.5C1412 981.3 1441.9 977.6 1472.2 974.9C1502.5 972.2 1533.8 970.4 1565 969.3C1596.2 968.2 1627.9 968 1659.4 968.4C1690.9 968.8 1722.4 969.8 1753.9 971.5C1785.4 973.1 1816.9 975.2 1848.2 978.3C1879.6 981.4 1911.3 984.9 1941.8 990.1C1972.2 995.4 2003.1 1001.5 2031.2 1009.6C2059.2 1017.8 2086.7 1027.6 2110 1039.2C2133.3 1050.8 2154.4 1064.5 2170.8 1079.4C2187.3 1094.2 2200 1111 2208.8 1128.2C2217.7 1145.3 2221.9 1163.8 2223.9 1182.1C2226 1200.4 2224 1219.3 2221.1 1238Z"/><path id="w23" d="M2166 1238C2161.6 1252.7 2154 1267.3 2145 1281.5C2136.1 1295.6 2124.8 1309.4 2112.5 1322.9C2100.1 1336.3 2086.2 1349.4 2071.1 1362.1C2056 1374.7 2039.6 1387.1 2022 1398.8C2004.3 1410.6 1985.5 1422 1965.2 1432.7C1945 1443.4 1923.5 1453.6 1900.5 1463C1877.6 1472.3 1853.3 1481 1827.6 1488.6C1802 1496.3 1774.8 1503.2 1746.6 1508.9C1718.4 1514.5 1688.6 1519.3 1658.3 1522.6C1628.1 1525.9 1596.4 1528.1 1565 1528.8C1533.6 1529.4 1501.3 1528.7 1470.2 1526.6C1439 1524.5 1407.7 1520.8 1378 1516C1348.3 1511.3 1319.4 1505.1 1292 1498.1C1264.5 1491.2 1238.4 1483 1213.4 1474.3C1188.3 1465.6 1164.5 1456.1 1141.5 1446C1118.5 1435.9 1096.4 1425.2 1075.3 1413.6C1054.3 1402.1 1033.8 1389.9 1015.4 1376.8C997 1363.6 979.4 1349.7 965.1 1334.9C950.8 1320.1 938.2 1304.3 929.6 1288.2C921.1 1272 915.5 1254.9 913.9 1238C912.3 1221.1 914.5 1203.6 920.1 1186.8C925.7 1170 935.3 1153 947.5 1137.1C959.6 1121.2 975.5 1105.7 993.1 1091.5C1010.8 1077.3 1031.5 1063.8 1053.3 1051.8C1075.1 1039.8 1099.3 1028.9 1124.2 1019.3C1149.1 1009.8 1175.6 1001.5 1202.8 994.4C1230 987.2 1258.4 981.4 1287.4 976.7C1316.5 971.9 1346.6 968.3 1377 965.9C1407.5 963.4 1438.9 962 1470.2 961.8C1501.6 961.5 1533.6 962.3 1565 964.1C1596.4 965.8 1628 968.7 1658.8 972.2C1689.6 975.7 1720.1 980.1 1749.9 985C1779.6 989.9 1808.9 995.4 1837.4 1001.5C1865.9 1007.5 1894 1014 1921 1021.3C1947.9 1028.6 1974.5 1036.4 1999 1045.2C2023.5 1054.1 2047.3 1063.7 2067.7 1074.5C2088.2 1085.2 2107.1 1097 2122 1109.6C2136.8 1122.2 2148.8 1135.9 2157.1 1149.9C2165.3 1163.9 2169.8 1178.8 2171.2 1193.5C2172.7 1208.2 2170.4 1223.3 2166 1238Z"/><path id="w24" d="M2194.3 1238C2190 1254.7 2182.8 1271.4 2174.5 1287.6C2166.1 1303.9 2155.7 1319.9 2143.9 1335.6C2132.1 1351.2 2118.8 1366.6 2103.6 1381.3C2088.4 1396 2071.5 1410.4 2052.7 1423.7C2034 1437.1 2013.3 1449.8 1991 1461.3C1968.8 1472.8 1944.6 1483.3 1919.3 1492.6C1894 1501.8 1867.1 1509.9 1839.3 1516.8C1811.5 1523.6 1782.3 1529.3 1752.5 1533.8C1722.7 1538.3 1691.7 1541.6 1660.5 1543.7C1629.2 1545.7 1596.9 1546.6 1565 1546C1533.1 1545.5 1500.4 1543.6 1468.9 1540.3C1437.4 1537.1 1405.8 1532.3 1375.9 1526.3C1346 1520.3 1316.9 1512.7 1289.6 1504.3C1262.4 1495.8 1236.7 1485.9 1212.6 1475.6C1188.4 1465.3 1166.1 1453.9 1144.8 1442.4C1123.4 1430.8 1103.5 1418.7 1084.5 1406.3C1065.6 1393.9 1047.4 1381.2 1031 1368C1014.7 1354.8 999 1341.2 986.5 1327.1C974 1313 962.8 1298.2 955.9 1283.4C949 1268.6 944.9 1253.1 945 1238C945.1 1222.9 949.2 1207.5 956.4 1193C963.7 1178.5 975.2 1164.1 988.4 1150.8C1001.7 1137.4 1018.5 1124.6 1036 1112.7C1053.4 1100.8 1073.2 1089.7 1093.3 1079.1C1113.4 1068.6 1134.6 1058.8 1156.6 1049.5C1178.6 1040.2 1201.3 1031.5 1225.2 1023.4C1249.1 1015.3 1274 1007.6 1300.2 1000.9C1326.4 994.2 1354 988 1382.5 983.1C1411.1 978.1 1441.2 974 1471.6 971.1C1502 968.2 1533.6 966.4 1565 965.5C1596.4 964.6 1628.2 964.9 1659.7 965.8C1691.2 966.8 1722.8 968.7 1753.9 971.3C1785.1 973.8 1816.3 977 1846.8 981.3C1877.4 985.5 1908.1 990.4 1937.4 996.7C1966.7 1003 1996 1010.3 2022.4 1019.3C2048.9 1028.3 2074.6 1038.7 2096.4 1050.6C2118.1 1062.4 2137.6 1076.1 2152.8 1090.5C2168 1104.9 2179.6 1121 2187.5 1137.1C2195.4 1153.2 2199.1 1170.4 2200.2 1187.2C2201.4 1204.1 2198.6 1221.3 2194.3 1238Z"/><path id="w25" d="M2231.9 1238C2223.8 1257.6 2214 1276.1 2202.3 1293.5C2190.7 1311 2177.2 1327.5 2161.8 1342.7C2146.5 1358 2128.9 1372.1 2110 1385.1C2091.1 1398 2070.1 1409.6 2048.4 1420.2C2026.7 1430.9 2003.4 1440.1 1979.8 1448.9C1956.2 1457.6 1931.7 1465.2 1906.6 1472.5C1881.5 1479.8 1855.9 1486.5 1829.3 1492.7C1802.7 1498.9 1775.3 1504.7 1746.8 1509.7C1718.3 1514.7 1688.6 1519.2 1658.3 1522.4C1628 1525.6 1596.4 1528.1 1565 1529C1533.6 1529.8 1501.3 1529.5 1470.1 1527.7C1438.8 1525.9 1407.4 1522.7 1377.6 1518.2C1347.7 1513.6 1318.6 1507.6 1291 1500.6C1263.5 1493.6 1237.2 1485.3 1212.3 1476.2C1187.4 1467.1 1163.9 1456.8 1141.6 1446C1119.2 1435.2 1098.1 1423.5 1078.3 1411.3C1058.5 1399.1 1039.5 1386.2 1022.5 1372.8C1005.6 1359.3 989.5 1345.3 976.5 1330.7C963.5 1316.2 952.1 1300.9 944.5 1285.5C937 1270 932.3 1253.9 931.2 1238C930.1 1222.1 932.7 1205.8 937.9 1189.8C943.1 1173.8 952 1157.9 962.3 1142.1C972.6 1126.2 985.6 1110.6 999.6 1094.7C1013.6 1078.9 1029.2 1063 1046.3 1047C1063.4 1031.1 1081.7 1014.8 1102.4 999.1C1123.1 983.3 1145.5 967.3 1170.5 952.5C1195.6 937.8 1223.1 923.3 1252.8 910.6C1282.4 897.9 1314.8 886.2 1348.3 876.5C1381.9 866.7 1417.7 858.5 1453.8 852C1490 845.4 1527.5 840.7 1565 837C1602.5 833.4 1640.6 831.1 1679.1 830C1717.5 828.9 1756.6 828.4 1795.6 830.2C1834.5 832.1 1874.7 834.8 1912.8 841C1950.9 847.2 1989.5 855.8 2024.1 867.5C2058.6 879.3 2091.8 894.4 2120 911.5C2148.1 928.6 2173.2 949 2192.9 970C2212.6 991.1 2227.7 1014.7 2238.1 1037.8C2248.6 1060.8 2253.4 1085.4 2255.5 1108.4C2257.7 1131.5 2254.8 1154.6 2250.9 1176.2C2246.9 1197.8 2240 1218.4 2231.9 1238Z"/><path id="w26" d="M2158.8 1238C2152.4 1252.2 2142.8 1265.8 2132 1278.7C2121.1 1291.6 2107.7 1303.7 2093.8 1315.3C2079.9 1327 2064.2 1337.8 2048.3 1348.5C2032.4 1359.2 2015.6 1369.4 1998.4 1379.7C1981.1 1389.9 1963.5 1400 1944.8 1410.1C1926.1 1420.2 1907 1430.4 1886.1 1440.3C1865.2 1450.2 1843.4 1460.2 1819.6 1469.3C1795.8 1478.4 1770.3 1487.3 1743.3 1494.8C1716.3 1502.3 1687.2 1509 1657.5 1514.1C1627.8 1519.2 1596.2 1523.1 1565 1525.3C1533.8 1527.5 1501.4 1528.2 1470.1 1527.5C1438.7 1526.8 1407.2 1524.4 1377 1521C1346.8 1517.6 1317.1 1512.7 1288.6 1506.9C1260.2 1501.2 1232.7 1494.2 1206.1 1486.4C1179.5 1478.6 1153.8 1469.8 1129 1460.1C1104.2 1450.4 1080.1 1439.7 1057.4 1428C1034.6 1416.3 1012.4 1403.6 992.4 1389.7C972.4 1375.9 953.3 1361 937.3 1345.1C921.3 1329.1 907 1312 896.5 1294.1C886 1276.3 878.3 1257.3 874 1238C869.8 1218.7 869 1198.6 871 1178.3C873.1 1158.1 878.2 1137.3 886.3 1116.7C894.3 1096.1 905 1075 919.2 1054.9C933.4 1034.8 950.8 1014.4 971.6 996.1C992.4 977.8 1017.1 960.1 1044.2 945C1071.2 929.8 1102 916.3 1134 905.2C1165.9 894.1 1200.7 885.1 1235.8 878.4C1270.9 871.6 1307.9 867.2 1344.5 864.4C1381.1 861.7 1418.6 861.3 1455.3 862C1492.1 862.7 1528.9 865.3 1565 868.7C1601.1 872.1 1636.8 876.7 1671.7 882.4C1706.5 888.1 1741 894.9 1774.2 902.8C1807.4 910.8 1840 920 1870.7 930.3C1901.5 940.7 1931.3 952.3 1958.7 964.8C1986 977.4 2012 991.2 2034.9 1005.5C2057.8 1019.8 2078.7 1035.2 2096.2 1050.7C2113.7 1066.2 2128.5 1082.5 2139.9 1098.5C2151.4 1114.5 2159.6 1130.8 2164.7 1146.7C2169.9 1162.5 2171.6 1178.4 2170.6 1193.6C2169.6 1208.9 2165.2 1223.8 2158.8 1238Z"/><path id="w27" d="M2257.8 1238C2250.3 1259.6 2242.3 1280 2232.3 1299.9C2222.3 1319.7 2211.5 1338.9 2197.9 1357C2184.3 1375.1 2168.6 1392.6 2150.5 1408.6C2132.4 1424.6 2111.5 1439.6 2089 1452.9C2066.5 1466.3 2041.4 1478.1 2015.6 1488.6C1989.7 1499 1961.9 1507.8 1933.8 1515.5C1905.6 1523.3 1876.4 1529.5 1846.7 1535C1817.1 1540.4 1786.7 1544.8 1755.9 1548.3C1725.1 1551.8 1693.5 1554.4 1661.7 1556.1C1629.9 1557.8 1597.3 1558.6 1565 1558.4C1532.7 1558.1 1499.8 1556.9 1467.6 1554.6C1435.5 1552.3 1403.3 1549 1372.1 1544.6C1340.9 1540.2 1310.2 1534.7 1280.6 1528.2C1251 1521.6 1222.2 1514 1194.7 1505.2C1167.2 1496.4 1140.6 1486.4 1115.5 1475.3C1090.5 1464.1 1066.5 1451.8 1044.3 1438.5C1022.1 1425.1 1001 1410.6 982.5 1395.3C963.9 1380 946.7 1363.6 932.8 1346.7C918.9 1329.8 907.1 1311.8 899 1293.7C890.9 1275.6 885.9 1256.7 884.4 1238C882.8 1219.3 884.8 1200.3 889.5 1181.5C894.2 1162.8 902.3 1144 912.4 1125.4C922.4 1106.9 935.3 1088.4 949.8 1070C964.3 1051.6 980.9 1033.3 999.4 1015C1018 996.8 1038.3 978.5 1061.2 960.7C1084 943 1109 925.2 1136.7 908.7C1164.4 892.2 1194.7 876 1227.1 861.8C1259.5 847.5 1294.8 834.1 1331.2 823C1367.5 812 1406.4 802.6 1445.4 795.3C1484.4 788 1524.7 783.2 1565 779.1C1605.3 775.1 1645.8 772.7 1687.2 771C1728.6 769.3 1771 767.5 1813.5 768.9C1855.9 770.4 1900.6 772.4 1942 779.6C1983.4 786.8 2025.4 797.7 2061.8 812.3C2098.2 826.8 2132 846.3 2160.4 867.1C2188.8 887.9 2213.2 912.5 2232.2 937.2C2251.1 961.9 2265.2 989.1 2274.2 1015.5C2283.3 1041.8 2286.1 1069.5 2286.7 1095.3C2287.2 1121 2282.3 1146.4 2277.5 1170.2C2272.6 1194 2265.4 1216.4 2257.8 1238Z"/><path id="w28" d="M2285.7 1238C2282.8 1261.9 2280.6 1285.2 2277.6 1309.5C2274.5 1333.7 2273.9 1358.8 2267.5 1383.6C2261.1 1408.3 2253.8 1434.5 2239.2 1457.9C2224.7 1481.3 2204.7 1504.6 2180.1 1524C2155.6 1543.3 2123.9 1560.2 2092 1574.1C2060.1 1588.1 2023.4 1598.2 1988.6 1607.7C1953.8 1617.2 1918.2 1624.2 1883.3 1631.1C1848.4 1638 1814.2 1644.5 1779.1 1649.1C1744 1653.6 1708.4 1657.5 1672.7 1658.3C1637.1 1659.2 1600.5 1657.4 1565 1654.3C1529.5 1651.3 1494.4 1645.4 1459.6 1640.1C1424.8 1634.8 1390.7 1628.9 1356.3 1622.5C1321.9 1616 1286.9 1610 1253.3 1601.3C1219.8 1592.6 1185.8 1582.8 1155.1 1570.5C1124.4 1558.2 1095.4 1543.3 1069.2 1527.5C1043 1511.8 1019.6 1493.8 997.9 1475.9C976.2 1458 956.7 1439 939.2 1419.9C921.7 1400.7 905.9 1381.1 893.1 1361.1C880.3 1341.2 869.6 1320.7 862.4 1300.2C855.2 1279.7 851 1258.8 849.8 1238C848.5 1217.2 850.4 1196.3 854.9 1175.5C859.3 1154.8 866.5 1133.9 876.5 1113.4C886.4 1092.9 898.9 1072.2 914.6 1052.6C930.3 1032.9 949 1013.3 970.7 995.5C992.4 977.7 1017.6 960.6 1044.9 945.6C1072.1 930.6 1102.6 917.1 1134.2 905.5C1165.9 894 1200 884.3 1234.7 876.3C1269.4 868.3 1305.9 862.3 1342.3 857.6C1378.7 852.9 1416.2 850.2 1453.3 848.2C1490.4 846.2 1527.8 845.7 1565 845.5C1602.2 845.3 1639.3 845.9 1676.7 846.9C1714.1 847.9 1751.6 849 1789.3 851.5C1827.1 853.9 1865.5 856.5 1903.2 861.4C1940.8 866.3 1979.2 872.2 2015 881C2050.7 889.8 2086.3 900.7 2117.5 914.3C2148.7 927.8 2178.1 944.1 2202.1 962.3C2226.1 980.5 2246.6 1001.5 2261.5 1023.3C2276.4 1045.2 2285.8 1069.4 2291.4 1093.3C2296.9 1117.1 2295.7 1142.2 2294.8 1166.3C2293.8 1190.4 2288.5 1214.1 2285.7 1238Z"/><path id="w29" d="M2205.8 1238C2202.9 1255.6 2197.4 1273.3 2191.2 1291.2C2185 1309.1 2177.6 1327.1 2168.5 1345.4C2159.5 1363.7 2149.6 1382.4 2136.8 1400.7C2124 1419 2109.6 1437.8 2091.7 1455.1C2073.8 1472.3 2053 1489.3 2029.6 1504.1C2006.2 1518.9 1979.3 1532.4 1951.3 1543.9C1923.4 1555.4 1892.8 1564.9 1862 1573C1831.1 1581.2 1798.8 1587.7 1766.3 1592.8C1733.7 1597.9 1700.2 1601.5 1666.7 1603.7C1633.1 1605.9 1598.9 1606.3 1565 1605.8C1531.1 1605.2 1497.1 1603 1463.4 1600.3C1429.7 1597.6 1396.2 1593.9 1362.9 1589.4C1329.6 1584.9 1296.2 1580 1263.7 1573.4C1231.1 1566.8 1198.5 1559.3 1167.6 1549.9C1136.8 1540.5 1106.7 1529.4 1078.6 1516.9C1050.5 1504.4 1024 1490.1 999.2 1474.8C974.4 1459.6 951.1 1442.9 929.7 1425.3C908.3 1407.7 887.8 1389 870.9 1369.1C853.9 1349.3 838.5 1328.1 827.8 1306.3C817 1284.4 810.1 1261.2 806.3 1238C802.6 1214.8 803.1 1190.9 805.3 1166.9C807.5 1142.9 811.9 1118.4 819.7 1094.1C827.5 1069.9 836.8 1044.6 852 1021.5C867.3 998.3 886.8 974.9 911.2 955.1C935.7 935.3 966.3 917.4 998.7 902.9C1031.1 888.4 1068.3 876.9 1105.4 868.2C1142.4 859.4 1182.1 853.8 1221 850.2C1259.9 846.7 1300 846.1 1338.8 846.9C1377.7 847.6 1416.5 850.8 1454.2 854.6C1491.9 858.3 1528.9 863.6 1565 869.3C1601.1 875 1636.4 881.6 1670.8 888.7C1705.2 895.8 1738.8 903.6 1771.5 911.9C1804.2 920.3 1836 929.2 1866.8 938.7C1897.5 948.3 1927.5 958.3 1955.9 969C1984.2 979.8 2011.9 991 2037 1003.2C2062.1 1015.3 2086.1 1028.2 2106.7 1042C2127.2 1055.7 2145.8 1070.5 2160.4 1085.8C2175.1 1101.2 2186.5 1117.5 2194.6 1134.1C2202.6 1150.7 2206.8 1168.1 2208.6 1185.4C2210.5 1202.7 2208.7 1220.4 2205.8 1238Z"/><path id="w30" d="M2240.6 1238C2237.6 1258.3 2232.9 1278.3 2227.7 1298.9C2222.5 1319.5 2217.3 1340.3 2209.5 1361.5C2201.8 1382.7 2193.7 1404.9 2181.2 1426.1C2168.6 1447.2 2153.6 1469.1 2134.1 1488.5C2114.5 1507.9 2090.4 1526.6 2063.8 1542.4C2037.2 1558.1 2005.9 1571.5 1974.8 1583.1C1943.6 1594.7 1909.9 1603.8 1876.7 1612.1C1843.5 1620.4 1809.7 1627.6 1775.5 1633.1C1741.3 1638.7 1706.3 1643.3 1671.3 1645.4C1636.2 1647.5 1600.2 1647.3 1565 1645.9C1529.8 1644.4 1494.8 1640.3 1460 1636.7C1425.1 1633 1390.9 1628.5 1356 1623.9C1321.1 1619.4 1285.6 1615.4 1250.4 1609.2C1215.3 1603.1 1178.9 1596.7 1145 1587.2C1111.2 1577.7 1077.8 1566 1047.3 1552.4C1016.8 1538.7 988.9 1522.3 962.2 1505.3C935.4 1488.2 910.7 1469.7 886.8 1450.1C862.9 1430.5 838.5 1410 818.7 1387.8C798.9 1365.5 779.9 1341.4 768.2 1316.4C756.6 1291.4 751 1264.5 748.6 1238C746.1 1211.5 750.4 1184.7 753.5 1157.6C756.6 1130.6 760.1 1103.2 766.9 1075.7C773.6 1048.1 779.2 1018.8 794 992.5C808.8 966.1 828.7 939.2 855.5 917.5C882.3 895.8 918.1 877.1 954.6 862.3C991.2 847.5 1033.7 836.9 1074.9 828.7C1116 820.5 1159.4 815.9 1201.5 813C1243.6 810.2 1286.3 810.5 1327.5 811.8C1368.8 813.1 1409.6 816.9 1449.2 820.7C1488.8 824.5 1527.2 829.6 1565 834.7C1602.8 839.7 1639.6 845.1 1676.1 850.9C1712.6 856.7 1748.6 862.6 1784 869.6C1819.4 876.5 1854.6 883.7 1888.5 892.4C1922.5 901.1 1956.2 910.5 1987.6 921.6C2019.1 932.6 2049.8 944.9 2077.2 958.8C2104.5 972.6 2130.2 988 2151.6 1004.5C2173 1021 2191.4 1039.2 2205.6 1057.9C2219.7 1076.6 2229.7 1096.6 2236.4 1116.5C2243.2 1136.4 2245.3 1157 2246 1177.3C2246.7 1197.5 2243.7 1217.7 2240.6 1238Z"/><path id="w31" d="M2276.4 1238C2272.5 1261.1 2268.9 1283.5 2264.7 1306.7C2260.4 1329.9 2257.9 1353.6 2251 1377.4C2244 1401.2 2236.8 1426.2 2223.2 1449.3C2209.7 1472.4 2192.1 1495.9 2169.6 1515.9C2147 1536 2118.1 1554.3 2087.9 1569.5C2057.7 1584.7 2022.2 1596.3 1988.3 1607.1C1954.3 1617.8 1918.9 1625.9 1884.3 1634.1C1849.7 1642.3 1815.7 1650.2 1780.7 1656.4C1745.7 1662.6 1710.2 1668.6 1674.3 1671.2C1638.3 1673.9 1601.1 1673.9 1565 1672.2C1528.9 1670.5 1493.1 1665.2 1457.6 1661.1C1422 1657.1 1387.5 1652 1351.4 1647.7C1315.3 1643.5 1278.2 1640.9 1240.9 1635.6C1203.6 1630.3 1163.8 1625.4 1127.5 1616C1091.3 1606.6 1055.5 1594.1 1023.7 1579.2C991.9 1564.3 964.3 1545.5 937 1526.6C909.6 1507.7 884.7 1487.3 859.6 1466.1C834.6 1444.8 807.5 1423 786.7 1399C765.8 1375 745.6 1348.8 734.6 1322C723.6 1295.1 721.1 1266 720.7 1238C720.3 1210 728.2 1182.1 732.2 1153.7C736.3 1125.3 739.6 1097.1 744.8 1067.7C750 1038.3 751.7 1006.6 763.6 977.2C775.5 947.8 791.5 916.9 816.3 891.2C841 865.6 875.6 842.4 912 823.2C948.3 804.1 991.9 789.1 1034.3 776.3C1076.7 763.5 1121.8 753.7 1166.3 746.3C1210.9 739 1256.8 734.3 1301.8 732.1C1346.7 729.9 1392.3 731.4 1436.2 733.3C1480 735.3 1522.8 740.2 1565 743.9C1607.2 747.7 1647.9 751.7 1689.3 755.9C1730.7 760.1 1772.2 763.2 1813.4 769.2C1854.6 775.1 1896.9 781.5 1936.3 791.5C1975.8 801.5 2015.1 814.2 2050.1 829.3C2085.1 844.5 2117.9 862.9 2146.3 882.5C2174.7 902.2 2200 924.3 2220.4 947.1C2240.7 969.8 2257.1 994.4 2268.6 1019C2280.1 1043.5 2286.2 1069.3 2289.4 1094.1C2292.6 1118.9 2290.1 1143.9 2287.9 1167.9C2285.7 1191.8 2280.2 1214.9 2276.4 1238Z"/><path id="w32" d="M2163.6 1238C2156.2 1252.6 2146.1 1266.3 2134.9 1279.3C2123.8 1292.4 2110.3 1304.5 2096.5 1316.4C2082.7 1328.4 2067.6 1339.5 2052.2 1350.9C2036.9 1362.2 2021 1373.3 2004.5 1384.7C1988 1396.1 1971.4 1407.7 1953.2 1419.4C1935 1431.2 1916.3 1443.3 1895.5 1455C1874.6 1466.6 1852.3 1478.6 1827.9 1489.3C1803.5 1500 1777 1510.4 1749.1 1519.3C1721.1 1528.1 1691 1536 1660.3 1542.4C1629.7 1548.8 1597.3 1553.8 1565 1557.6C1532.7 1561.3 1499.6 1563.6 1466.7 1564.8C1433.8 1566 1400.8 1566 1367.9 1565C1334.9 1564.1 1302 1562.3 1269 1559.1C1236 1555.9 1202.6 1552.1 1170 1545.9C1137.5 1539.8 1104.6 1532.3 1073.8 1522.3C1043 1512.3 1013.3 1500.1 985.3 1486.2C957.4 1472.3 931.1 1456.3 906.1 1438.9C881 1421.5 856.2 1402.6 835.2 1381.9C814.2 1361.2 793.7 1338.4 779.9 1314.5C766.1 1290.5 757.4 1264.2 752.4 1238C747.4 1211.8 749.5 1184.7 750 1157C750.4 1129.2 752.1 1101 755 1071.4C757.9 1041.8 757.9 1009.6 767.4 979.1C776.9 948.6 789.4 915.7 812 888.3C834.5 861 867.2 835.4 902.7 814.7C938.2 794.1 982.2 777.9 1025.1 764.5C1068 751.1 1114.4 741.2 1160 734.4C1205.7 727.6 1253.1 724.2 1299.1 723.9C1345.1 723.7 1391.8 727.9 1436.1 732.8C1480.4 737.7 1523.3 745.8 1565 753.3C1606.7 760.7 1646.8 768.6 1686.3 777.6C1725.9 786.6 1765.1 795.7 1802.2 807.5C1839.4 819.4 1876 832.9 1909.2 848.5C1942.5 864 1973.9 882.2 2001.6 900.8C2029.3 919.5 2054.2 940.2 2075.5 960.6C2096.8 980.9 2114.8 1002.4 2129.5 1022.9C2144.2 1043.5 2155.3 1064.2 2163.7 1083.8C2172 1103.4 2177.1 1122.4 2179.6 1140.4C2182.2 1158.4 2181.8 1175.5 2179.1 1191.8C2176.5 1208.1 2171 1223.4 2163.6 1238Z"/><path id="w33" d="M2150.9 1238C2145.6 1251.6 2136.7 1264.9 2126.5 1277.6C2116.3 1290.2 2103.3 1302.2 2089.6 1313.6C2075.9 1325.1 2060.3 1335.8 2044.2 1346.1C2028.2 1356.5 2011.1 1366.2 1993.4 1375.6C1975.8 1385.1 1957.5 1394.2 1938.4 1403C1919.3 1411.9 1899.7 1420.6 1878.8 1428.9C1857.9 1437.2 1836.2 1445.5 1812.8 1453C1789.4 1460.5 1764.7 1467.9 1738.4 1474C1712.1 1480.1 1683.9 1485.7 1655.1 1489.6C1626.2 1493.4 1595.3 1496.3 1565 1497.2C1534.7 1498.1 1503 1497.4 1473 1495.1C1443 1492.8 1412.8 1488.6 1384.9 1483.3C1356.9 1478.1 1330.1 1471 1305.1 1463.6C1280.1 1456.2 1257 1447.5 1234.9 1438.8C1212.8 1430.1 1192.4 1420.8 1172.3 1411.4C1152.2 1402.1 1133 1392.5 1114.3 1382.6C1095.6 1372.6 1077 1362.5 1060.2 1351.6C1043.4 1340.7 1026.7 1329.3 1013.5 1317.2C1000.3 1305 988.3 1292.1 981 1278.9C973.6 1265.7 969.2 1251.6 969.2 1238C969.2 1224.4 973.6 1210.4 981 1197.2C988.4 1184.1 1000.3 1171.1 1013.6 1159.1C1026.9 1147.1 1043.7 1135.7 1060.7 1125C1077.8 1114.2 1096.7 1104.2 1115.7 1094.4C1134.7 1084.7 1154.3 1075.4 1174.7 1066.4C1195.1 1057.3 1215.9 1048.4 1238.1 1040.1C1260.4 1031.7 1283.4 1023.5 1308.2 1016.3C1333 1009 1359.4 1002.2 1386.9 996.7C1414.5 991.3 1443.8 986.7 1473.5 983.6C1503.2 980.5 1534.3 978.7 1565 978.2C1595.7 977.6 1627.1 978.5 1657.7 980.3C1688.3 982.1 1718.9 985.1 1748.7 989C1778.5 992.8 1808 997.6 1836.5 1003.3C1865.1 1008.9 1893.3 1015.4 1920 1022.8C1946.6 1030.2 1972.9 1038.5 1996.7 1047.8C2020.6 1057 2043.4 1067.3 2063.1 1078.4C2082.7 1089.5 2100.4 1101.7 2114.4 1114.3C2128.3 1126.9 2139.4 1140.6 2146.8 1154.2C2154.2 1167.9 2158 1182.2 2158.7 1196.2C2159.4 1210.2 2156.3 1224.4 2150.9 1238Z"/><path id="w34" d="M2296.7 1238C2292.3 1262.9 2290.1 1286.6 2286.6 1311.4C2283.1 1336.1 2282.3 1361.5 2275.7 1386.6C2269.1 1411.7 2261.6 1438.1 2247 1462C2232.4 1485.9 2212.7 1509.9 2188.1 1530C2163.5 1550.1 2131.8 1567.9 2099.6 1582.7C2067.3 1597.5 2029.8 1608.3 1994.5 1618.8C1959.3 1629.4 1923.1 1637.2 1888 1646C1852.9 1654.8 1819.3 1664 1784 1671.6C1748.8 1679.2 1713.2 1687.7 1676.7 1691.6C1640.2 1695.6 1601.9 1696.7 1565 1695.2C1528.1 1693.7 1491.6 1687.2 1455.4 1682.6C1419.2 1678 1384.8 1671.8 1347.8 1667.5C1310.8 1663.1 1272.5 1661.5 1233.6 1656.5C1194.7 1651.5 1152.1 1647.4 1114.5 1637.6C1076.9 1627.7 1040 1613.6 1008 1597.1C976.1 1580.7 949.8 1559.4 922.7 1538.9C895.7 1518.4 871.1 1496.7 845.9 1474.3C820.7 1451.8 792.4 1429.3 771.3 1404.4C750.2 1379.4 729.8 1352.1 719.4 1324.4C708.9 1296.7 708 1266.7 708.6 1238C709.2 1209.3 718.7 1181 722.8 1151.9C727 1122.9 729.9 1094.2 733.6 1063.5C737.3 1032.9 735.9 999.6 745.2 967.9C754.6 936.3 766.9 902.2 789.8 873.6C812.7 845 846.3 818.4 882.5 796.4C918.7 774.3 963.6 756.8 1007.1 741.3C1050.6 725.7 1097.2 713.1 1143.5 703.2C1189.9 693.3 1237.9 685.6 1285.4 681.9C1332.9 678.1 1381.8 679 1428.4 680.9C1475 682.8 1520.4 689.4 1565 693.3C1609.6 697.1 1651.8 701.2 1696 704.2C1740.2 707.2 1785 707.2 1830 711.5C1875 715.7 1922.8 719.6 1966.1 729.6C2009.5 739.5 2052.8 753.7 2090.2 771.1C2127.6 788.6 2161.5 811 2190.5 834.2C2219.6 857.4 2244.7 883.6 2264.6 910.1C2284.5 936.7 2300.2 965.2 2310 993.4C2319.9 1021.6 2323.1 1051.4 2323.6 1079.5C2324.1 1107.6 2317.4 1135.6 2312.9 1162C2308.4 1188.4 2301 1213.1 2296.7 1238Z"/><path id="w35" d="M1113 724C1105.8 725.2 1085.5 727.5 1070 731C1054.5 734.5 1036.7 739.3 1020 745C1003.3 750.7 986.7 757.5 970 765C953.3 772.5 935.8 780.8 920 790C904.2 799.2 888.7 809.7 875 820C861.3 830.3 849.2 840.7 838 852C826.8 863.3 816.8 875.8 808 888C799.2 900.2 791.3 912.2 785 925C778.7 937.8 773.7 951.7 770 965C766.3 978.3 764.2 991.7 763 1005C761.8 1018.3 761.8 1031.7 763 1045C764.2 1058.3 768.8 1078.3 770 1085"/><path id="w36" d="M1037 895C1048.8 892.7 1085.8 884.7 1108 881C1130.2 877.3 1152.2 874.3 1170 873C1187.8 871.7 1202.3 872 1215 873C1227.7 874 1240.8 878 1246 879"/><path id="w37" d="M1457 970C1468 970.8 1501.2 973.7 1523 975C1544.8 976.3 1566.8 977.2 1588 978C1609.2 978.8 1631.3 979.3 1650 980C1668.7 980.7 1681.7 980.8 1700 982C1718.3 983.2 1735 983.3 1760 987C1785 990.7 1819.5 998 1850 1004C1880.5 1010 1915.8 1015.3 1943 1023C1970.2 1030.7 1993.2 1041.5 2013 1050C2032.8 1058.5 2047.5 1065.7 2062 1074C2076.5 1082.3 2093.7 1095.7 2100 1100"/><path id="w38" d="M1008 1322C1013.3 1326 1026.5 1337.8 1040 1346C1053.5 1354.2 1070 1361.3 1089 1371C1108 1380.7 1132.3 1393.5 1154 1404C1175.7 1414.5 1197.5 1425.3 1219 1434C1240.5 1442.7 1261.5 1449.3 1283 1456C1304.5 1462.7 1326.3 1468.8 1348 1474C1369.7 1479.2 1391 1483.7 1413 1487C1435 1490.3 1455.5 1492.2 1480 1494C1504.5 1495.8 1546.7 1497.3 1560 1498"/><path id="w39" d="M1937 1404C1943.3 1401.2 1960 1395.3 1975 1387C1990 1378.7 2011 1364.5 2027 1354C2043 1343.5 2058.8 1332.3 2071 1324C2083.2 1315.7 2095.2 1307.3 2100 1304"/></defs>
<use href="#w1" class="o" style="stroke-width:25.5"/><use href="#w1" class="i" style="stroke-width:21.3"/>
<path d="M296 1724C303.3 1719.7 322.7 1707.3 340 1698C357.3 1688.7 380 1676.3 400 1668C420 1659.7 440 1652.3 460 1648C480 1643.7 500 1641.7 520 1642C540 1642.3 560 1644.7 580 1650C600 1655.3 620 1664.3 640 1674C660 1683.7 682.5 1699 700 1708C717.5 1717 730.8 1725.7 745 1728C759.2 1730.3 774.2 1728.3 785 1722C795.8 1715.7 804.2 1703.7 810 1690C815.8 1676.3 818.8 1658.3 820 1640C821.2 1621.7 819.3 1601.7 817 1580C814.7 1558.3 810.5 1533.3 806 1510C801.5 1486.7 795.2 1460 790 1440C784.8 1420 777.5 1398.3 775 1390" fill="none" stroke="#232323" stroke-width="2.1"/>
<g transform="translate(44.4 1865.6) rotate(-28.6)" class="l"><path d="M214 -30 L283 -24 A9.4 24 0 0 1 283 24 L214 30 A11.7 30 0 0 1 214 -30 Z"/><path d="M263 -33 L275 -33 A12.9 33 0 0 1 275 33 L263 33 A12.9 33 0 0 1 263 -33 Z"/><ellipse cx="263" cy="0" rx="12.9" ry="33"/><path d="M243 -36 L255 -36 A14 36 0 0 1 255 36 L243 36 A14 36 0 0 1 243 -36 Z"/><ellipse cx="243" cy="0" rx="14" ry="36"/><path d="M223 -39 L235 -39 A15.2 39 0 0 1 235 39 L223 39 A15.2 39 0 0 1 223 -39 Z"/><ellipse cx="223" cy="0" rx="15.2" ry="39"/><path d="M196 -41 L222 -41 A16 41 0 0 1 222 41 L196 41 A16 41 0 0 1 196 -41 Z"/><ellipse cx="196" cy="0" rx="16" ry="41"/><path d="M109 -66 L195 -63 A24.6 63 0 0 1 195 63 L109 66 A25.7 66 0 0 1 109 -66 Z"/><ellipse cx="109" cy="0" rx="25.7" ry="66"/><path d="M117.2 -62.6 L202.8 -59.7"/><path d="M122.6 -56 L208 -53.4"/><path d="M127.4 -46.3 L212.5 -44.2"/><path d="M131.1 -34 L216.1 -32.4"/><path d="M133.5 -19.8 L218.4 -18.9"/><path d="M134.7 -4.6 L219.5 -4.4"/><path d="M134.4 10.9 L219.2 10.4"/><path d="M132.7 25.8 L217.6 24.6"/><path d="M129.7 39.3 L214.8 37.5"/><path d="M125.5 50.6 L210.8 48.3"/><path d="M120.5 59.1 L206 56.4"/><path d="M114.8 64.3 L200.5 61.4"/><ellipse cx="109" cy="0" rx="22.2" ry="57"/><ellipse cx="113" cy="0" rx="21.4" ry="55" /><path d="M66 -53 L112 -53 A20.7 53 0 0 1 112 53 L66 53 A20.7 53 0 0 1 66 -53 Z"/><ellipse cx="66" cy="0" rx="20.7" ry="53"/><path d="M60 -55 L70 -55 A21.4 55 0 0 1 70 55 L60 55 A21.4 55 0 0 1 60 -55 Z"/><ellipse cx="60" cy="0" rx="21.4" ry="55"/><ellipse cx="64" cy="0" rx="21.4" ry="55" fill="none"/><path d="M0 -43.5 L62 -43.5 A17 43.5 0 0 1 62 43.5 L0 43.5 A17 43.5 0 0 1 0 -43.5 Z"/><ellipse cx="0" cy="0" rx="17" ry="43.5"/><ellipse cx="1" cy="0" rx="14" ry="36"/><path d="M5 -21 L14 -21 A2.3 6 0 0 1 14 -9 L5 -9 Z"/><ellipse cx="5" cy="-15" rx="3.3" ry="6"/><path d="M5 9 L14 9 A2.3 6 0 0 1 14 21 L5 21 Z"/><ellipse cx="5" cy="15" rx="3.3" ry="6"/></g>
<g class="l"><path d="M2297 1373 L2322 1418 L2342 1412 L2315 1365 Z"/><path d="M2302 1382 l19 -7"/><path d="M2308.2 1393.2 l19 -7"/><path d="M2314.5 1404.5 l19 -7"/><path d="M2276 1462 L2352 1450 L2386 1515 L2312 1540 Z"/><path d="M2298 1464 Q2330 1458 2356 1458 L2364 1486 Q2335 1490 2304 1504 Z"/><path d="M2303 1466 L2332 1463" style="stroke-width:2.4"/><path d="M2303.9 1470.4 L2333.8 1467.4" style="stroke-width:2.4"/><path d="M2304.8 1474.8 L2335.6 1471.8" style="stroke-width:2.4"/><path d="M2305.7 1479.2 L2337.4 1476.2" style="stroke-width:2.4"/><path d="M2306.6 1483.6 L2339.2 1480.6" style="stroke-width:2.4"/><path d="M2307.5 1488 L2341 1485" style="stroke-width:2.4"/></g>
<use href="#w13" class="o"/><use href="#w13" class="i"/>
<use href="#w14" class="o"/><use href="#w14" class="i"/>
<use href="#w15" class="o"/><use href="#w15" class="i"/>
<use href="#w16" class="o"/><use href="#w16" class="i"/>
<g transform="translate(1968 1650) rotate(78.2)" class="l"><path d="M9 -20 A4.4 20 0 0 0 9 20 Z"/><path d="M13 -17 L0 -17 A8.5 17 0 0 0 0 17 L13 17 Z"/><path d="M9 -20 L45.5 -20 Q52.6 0 45.5 20 L9 20 A4.4 20 0 0 0 9 -20 Z"/></g>
<g transform="translate(2240 1446) rotate(-5.7)" class="l"><path d="M65.6 -23 A5.1 23 0 0 0 65.6 23 Z"/><path d="M69.6 -17 L0 -17 A8.5 17 0 0 0 0 17 L69.6 17 Z"/><path d="M65.6 -23 L116.6 -23 Q124.6 0 116.6 23 L65.6 23 A5.1 23 0 0 0 65.6 -23 Z"/></g>
<g transform="translate(2170 1532) rotate(8.9)" class="l"><path d="M90.7 -23 A5.1 23 0 0 0 90.7 23 Z"/><path d="M94.7 -18 L0 -18 A9 18 0 0 0 0 18 L94.7 18 Z"/><path d="M90.7 -23 L138.7 -23 Q146.8 0 138.7 23 L90.7 23 A5.1 23 0 0 0 90.7 -23 Z"/></g>
<use href="#w17" class="o"/><use href="#w17" class="i"/>
<use href="#w18" class="o"/><use href="#w18" class="i"/>
<use href="#w19" class="o"/><use href="#w19" class="i"/>
<g transform="translate(1671 730) rotate(-90)" class="l"><path d="M28 -20 A4 20 0 0 0 28 20 Z"/><path d="M32 -15 L0 -15 A7.5 15 0 0 0 0 15 L32 15 Z"/><path d="M28 -20 L70.8 -20 Q77.2 0 70.8 20 L28 20 A4 20 0 0 0 28 -20 Z"/></g>
<g transform="translate(1905 745) rotate(-97.4)" class="l"><path d="M33.6 -17 L0 -17 A8.5 17 0 0 0 0 17 L33.6 17 Z"/><path d="M29.6 -24 L48 -24 A21.6 24 0 0 1 48 24 L29.6 24 A13 24 0 0 1 29.6 -24 Z"/><ellipse cx="48" cy="0" rx="21.6" ry="24"/></g>
<g transform="translate(842 847) rotate(-172.9)" class="l"><path d="M77 -25 A5.5 25 0 0 0 77 25 Z"/><path d="M81 -19.5 L0 -19.5 A9.8 19.5 0 0 0 0 19.5 L81 19.5 Z"/><path d="M77 -25 L124.6 -25 Q133.4 0 124.6 25 L77 25 A5.5 25 0 0 0 77 -25 Z"/></g>
<g transform="translate(1076 792) rotate(-105.1)" class="l"><path d="M70 -19.5 A3.9 19.5 0 0 0 70 19.5 Z"/><path d="M74 -17 L0 -17 A8.5 17 0 0 0 0 17 L74 17 Z"/><path d="M70 -19.5 L111.9 -19.5 Q118.1 0 111.9 19.5 L70 19.5 A3.9 19.5 0 0 0 70 -19.5 Z"/></g>
<g transform="translate(770 1140) rotate(-169)" class="l"><path d="M31.2 -20 A4.4 20 0 0 0 31.2 20 Z"/><path d="M35.2 -14 L0 -14 A7 14 0 0 0 0 14 L35.2 14 Z"/><path d="M31.2 -20 L59.6 -20 Q66.7 0 59.6 20 L31.2 20 A4.4 20 0 0 0 31.2 -20 Z"/></g>
<g transform="translate(931 1558) rotate(104.3)" class="l"><path d="M66.9 -16.5 L0 -16.5 A8.2 16.5 0 0 0 0 16.5 L66.9 16.5 Z"/><path d="M62.9 -22.5 L110.1 -22.5 A15.7 22.5 0 0 1 110.1 22.5 L62.9 22.5 A9.4 22.5 0 0 1 62.9 -22.5 Z"/><ellipse cx="110.1" cy="0" rx="15.7" ry="22.5"/></g>
<g transform="translate(1577 1690) rotate(85)" class="l"><path d="M85.5 -24 A4.8 24 0 0 0 85.5 24 Z"/><path d="M89.5 -18.5 L0 -18.5 A9.2 18.5 0 0 0 0 18.5 L89.5 18.5 Z"/><path d="M85.5 -24 L134.7 -24 Q142.4 0 134.7 24 L85.5 24 A4.8 24 0 0 0 85.5 -24 Z"/></g>
<g transform="translate(1684 1760) rotate(68)" class="l"><path d="M82.7 -23 A4.6 23 0 0 0 82.7 23 Z"/><path d="M86.7 -17 L0 -17 A8.5 17 0 0 0 0 17 L86.7 17 Z"/><path d="M82.7 -23 L130 -23 Q137.4 0 130 23 L82.7 23 A4.6 23 0 0 0 82.7 -23 Z"/></g>
<g transform="translate(2050 1060) rotate(117.8)" class="l"><path d="M8.7 -19 A4.2 19 0 0 0 8.7 19 Z"/><path d="M12.7 -15 L0 -15 A7.5 15 0 0 0 0 15 L12.7 15 Z"/><path d="M8.7 -19 L37.4 -19 Q44.1 0 37.4 19 L8.7 19 A4.2 19 0 0 0 8.7 -19 Z"/></g>
<use href="#w20" class="o"/><use href="#w20" class="i"/>
<use href="#w21" class="o"/><use href="#w21" class="i"/>
<g transform="translate(1760 960) rotate(90.8)" class="l"><path d="M34 -23.5 A5.2 23.5 0 0 0 34 23.5 Z"/><path d="M38 -17 L0 -17 A8.5 17 0 0 0 0 17 L38 17 Z"/><path d="M34 -23.5 L71.9 -23.5 Q80.1 0 71.9 23.5 L34 23.5 A5.2 23.5 0 0 0 34 -23.5 Z"/></g>
<g transform="translate(886 940) rotate(-90)" class="l"><path d="M17 -22 A4.4 22 0 0 0 17 22 Z"/><path d="M21 -15 L0 -15 A7.5 15 0 0 0 0 15 L21 15 Z"/><path d="M17 -22 L63.5 -22 Q70.5 0 63.5 22 L17 22 A4.4 22 0 0 0 17 -22 Z"/></g>
<use href="#w22" class="o"/><use href="#w22" class="i"/>
<g transform="translate(1155 1610) rotate(106.1)" class="l"><path d="M24.1 -22 A4.8 22 0 0 0 24.1 22 Z"/><path d="M28.1 -17 L0 -17 A8.5 17 0 0 0 0 17 L28.1 17 Z"/><path d="M24.1 -22 L75.2 -22 Q83 0 75.2 22 L24.1 22 A4.8 22 0 0 0 24.1 -22 Z"/></g>
<use href="#w23" class="o"/><use href="#w23" class="i"/>
<use href="#w11" class="o"/><use href="#w11" class="i"/>
<g transform="translate(1445 684) rotate(-94.3)" class="l"><path d="M79.4 -23 A5.1 23 0 0 0 79.4 23 Z"/><path d="M83.4 -17.5 L0 -17.5 A8.8 17.5 0 0 0 0 17.5 L83.4 17.5 Z"/><path d="M79.4 -23 L128.3 -23 Q136.4 0 128.3 23 L79.4 23 A5.1 23 0 0 0 79.4 -23 Z"/></g>
<g transform="translate(1213 912) rotate(59.4)" class="l"><path d="M63 -19 A4.2 19 0 0 0 63 19 Z"/><path d="M67 -15 L0 -15 A7.5 15 0 0 0 0 15 L67 15 Z"/><path d="M63 -19 L104.7 -19 Q111.4 0 104.7 19 L63 19 A4.2 19 0 0 0 63 -19 Z"/></g>
<g transform="translate(1633 1497) rotate(-90)" class="l"><path d="M11 -15 L0 -15 A7.5 15 0 0 0 0 15 L11 15 Z"/><path d="M7 -19.5 L37.2 -19.5 A9.8 19.5 0 0 1 37.2 19.5 L7 19.5 A5.8 19.5 0 0 1 7 -19.5 Z"/><ellipse cx="37.2" cy="0" rx="9.8" ry="19.5"/></g>
<g transform="translate(1300 1765) rotate(-82.4)" class="l"><path d="M106.5 -20 A4.4 20 0 0 0 106.5 20 Z"/><path d="M110.5 -16.5 L0 -16.5 A8.2 16.5 0 0 0 0 16.5 L110.5 16.5 Z"/><path d="M106.5 -20 L162.9 -20 Q170 0 162.9 20 L106.5 20 A4.4 20 0 0 0 106.5 -20 Z"/></g>
<use href="#w24" class="o"/><use href="#w24" class="i"/>
<use href="#w9" class="o"/><use href="#w9" class="i"/>
<g transform="translate(1100 975) rotate(45)" class="l"><path d="M46.9 -18 A4 18 0 0 0 46.9 18 Z"/><path d="M50.9 -14 L0 -14 A7 14 0 0 0 0 14 L50.9 14 Z"/><path d="M46.9 -18 L88.8 -18 Q95.1 0 88.8 18 L46.9 18 A4 18 0 0 0 46.9 -18 Z"/></g>
<use href="#w25" class="o"/><use href="#w25" class="i"/>
<use href="#w6" class="o"/><use href="#w6" class="i"/>
<g transform="translate(1561 735) rotate(-113)" class="l"><path d="M74.2 -22.5 A5 22.5 0 0 0 74.2 22.5 Z"/><path d="M78.2 -17 L0 -17 A8.5 17 0 0 0 0 17 L78.2 17 Z"/><path d="M74.2 -22.5 L124.2 -22.5 Q132.1 0 124.2 22.5 L74.2 22.5 A5 22.5 0 0 0 74.2 -22.5 Z"/></g>
<g transform="translate(1245 1432) rotate(-71.1)" class="l"><path d="M35.6 -22 A4.8 22 0 0 0 35.6 22 Z"/><path d="M39.6 -18 L0 -18 A9 18 0 0 0 0 18 L39.6 18 Z"/><path d="M35.6 -22 L82.8 -22 Q90.5 0 82.8 22 L35.6 22 A4.8 22 0 0 0 35.6 -22 Z"/></g>
<g transform="translate(1020 1066) rotate(-178.2)" class="l"><path d="M78.1 -21.5 A4.7 21.5 0 0 0 78.1 21.5 Z"/><path d="M82.1 -15.5 L0 -15.5 A7.8 15.5 0 0 0 0 15.5 L82.1 15.5 Z"/><path d="M78.1 -21.5 L126.3 -21.5 Q133.8 0 126.3 21.5 L78.1 21.5 A4.7 21.5 0 0 0 78.1 -21.5 Z"/></g>
<g transform="translate(1250 1590) rotate(98.6)" class="l"><path d="M18.8 -22 A4.4 22 0 0 0 18.8 22 Z"/><path d="M22.8 -16 L0 -16 A8 16 0 0 0 0 16 L22.8 16 Z"/><path d="M18.8 -22 L63.2 -22 Q70.3 0 63.2 22 L18.8 22 A4.4 22 0 0 0 18.8 -22 Z"/></g>
<g transform="translate(1640 1590) rotate(68.2)" class="l"><path d="M7.2 -23 A5.1 23 0 0 0 7.2 23 Z"/><path d="M11.2 -18 L0 -18 A9 18 0 0 0 0 18 L11.2 18 Z"/><path d="M7.2 -23 L55.2 -23 Q63.3 0 55.2 23 L7.2 23 A5.1 23 0 0 0 7.2 -23 Z"/></g>
<use href="#w26" class="o"/><use href="#w26" class="i"/>
<use href="#w7" class="o"/><use href="#w7" class="i"/>
<use href="#w27" class="o"/><use href="#w27" class="i"/>
<g transform="translate(1465 790) rotate(90)" class="l"><path d="M18 -20 A4 20 0 0 0 18 20 Z"/><path d="M22 -17 L0 -17 A8.5 17 0 0 0 0 17 L22 17 Z"/><path d="M18 -20 L64.8 -20 Q71.2 0 64.8 20 L18 20 A4 20 0 0 0 18 -20 Z"/></g>
<g transform="translate(1100 1075) rotate(44.2)" class="l"><path d="M94.8 -22.5 A5 22.5 0 0 0 94.8 22.5 Z"/><path d="M98.8 -17 L0 -17 A8.5 17 0 0 0 0 17 L98.8 17 Z"/><path d="M94.8 -22.5 L143.8 -22.5 Q151.8 0 143.8 22.5 L94.8 22.5 A5 22.5 0 0 0 94.8 -22.5 Z"/></g>
<g transform="translate(1354 1602) rotate(89.5)" class="l"><path d="M75 -19.5 A3.9 19.5 0 0 0 75 19.5 Z"/><path d="M79 -13 L0 -13 A6.5 13 0 0 0 0 13 L79 13 Z"/><path d="M75 -19.5 L116.9 -19.5 Q123.1 0 116.9 19.5 L75 19.5 A3.9 19.5 0 0 0 75 -19.5 Z"/></g>
<use href="#w28" class="o"/><use href="#w28" class="i"/>
<use href="#w12" class="o"/><use href="#w12" class="i"/>
<use href="#w29" class="o"/><use href="#w29" class="i"/>
<use href="#w30" class="o"/><use href="#w30" class="i"/>
<g transform="translate(1822 1482) rotate(-119.6)" class="l"><path d="M74.4 -21 A4.6 21 0 0 0 74.4 21 Z"/><path d="M78.4 -16 L0 -16 A8 16 0 0 0 0 16 L78.4 16 Z"/><path d="M74.4 -21 L121.7 -21 Q129.1 0 121.7 21 L74.4 21 A4.6 21 0 0 0 74.4 -21 Z"/></g>
<g transform="translate(1727 1562) rotate(-100.5)" class="l"><path d="M68.9 -15 L0 -15 A7.5 15 0 0 0 0 15 L68.9 15 Z"/><path d="M64.9 -20.5 L105.7 -20.5 A9.2 20.5 0 0 1 105.7 20.5 L64.9 20.5 A5.5 20.5 0 0 1 64.9 -20.5 Z"/><ellipse cx="105.7" cy="0" rx="9.2" ry="20.5"/></g>
<g transform="translate(1330 1582) rotate(-54.9)" class="l"><path d="M19.2 -17 L0 -17 A8.5 17 0 0 0 0 17 L19.2 17 Z"/><path d="M15.2 -20 L29.2 -20 A16 20 0 0 1 29.2 20 L15.2 20 A9.6 20 0 0 1 15.2 -20 Z"/><ellipse cx="29.2" cy="0" rx="16" ry="20"/></g>
<use href="#w31" class="o"/><use href="#w31" class="i"/>
<g transform="translate(1950 745) rotate(103.3)" class="l"><path d="M83.7 -22 A4.8 22 0 0 0 83.7 22 Z"/><path d="M87.7 -15.5 L0 -15.5 A7.8 15.5 0 0 0 0 15.5 L87.7 15.5 Z"/><path d="M83.7 -22 L134.9 -22 Q142.6 0 134.9 22 L83.7 22 A4.8 22 0 0 0 83.7 -22 Z"/></g>
<g transform="translate(1394 880) rotate(90)" class="l"><path d="M14 -15 L0 -15 A7.5 15 0 0 0 0 15 L14 15 Z"/><path d="M10 -19.5 L44.1 -19.5 A5.8 19.5 0 0 1 44.1 19.5 L10 19.5 A3.5 19.5 0 0 1 10 -19.5 Z"/><ellipse cx="44.1" cy="0" rx="5.8" ry="19.5"/></g>
<use href="#w32" class="o"/><use href="#w32" class="i"/>
<use href="#w5" class="o"/><use href="#w5" class="i"/>
<g transform="translate(1965 1010) rotate(-69)" class="l"><path d="M33.6 -17 L0 -17 A8.5 17 0 0 0 0 17 L33.6 17 Z"/><path d="M29.6 -22 L52 -22 A17.6 22 0 0 1 52 22 L29.6 22 A10.6 22 0 0 1 29.6 -22 Z"/><ellipse cx="52" cy="0" rx="17.6" ry="22"/></g>
<g transform="translate(1406 790) rotate(80.6)" class="l"><path d="M66.5 -19.5 A4.3 19.5 0 0 0 66.5 19.5 Z"/><path d="M70.5 -13.5 L0 -13.5 A6.8 13.5 0 0 0 0 13.5 L70.5 13.5 Z"/><path d="M66.5 -19.5 L107 -19.5 Q113.9 0 107 19.5 L66.5 19.5 A4.3 19.5 0 0 0 66.5 -19.5 Z"/></g>
<g transform="translate(1030 905) rotate(-117.3)" class="l"><path d="M61.4 -19 A4.2 19 0 0 0 61.4 19 Z"/><path d="M65.4 -15.5 L0 -15.5 A7.8 15.5 0 0 0 0 15.5 L65.4 15.5 Z"/><path d="M61.4 -19 L108 -19 Q114.7 0 108 19 L61.4 19 A4.2 19 0 0 0 61.4 -19 Z"/></g>
<g transform="translate(2120 1396) rotate(-138.5)" class="l"><path d="M60.8 -22.5 A5 22.5 0 0 0 60.8 22.5 Z"/><path d="M64.8 -17 L0 -17 A8.5 17 0 0 0 0 17 L64.8 17 Z"/><path d="M60.8 -22.5 L110.8 -22.5 Q118.7 0 110.8 22.5 L60.8 22.5 A5 22.5 0 0 0 60.8 -22.5 Z"/></g>
<g transform="translate(1021 1500) rotate(-79.5)" class="l"><path d="M51.6 -21.5 A4.7 21.5 0 0 0 51.6 21.5 Z"/><path d="M55.6 -15 L0 -15 A7.5 15 0 0 0 0 15 L55.6 15 Z"/><path d="M51.6 -21.5 L89.8 -21.5 Q97.3 0 89.8 21.5 L51.6 21.5 A4.7 21.5 0 0 0 51.6 -21.5 Z"/></g>
<g transform="translate(1240 1640) rotate(124.1)" class="l"><path d="M30.3 -15 L0 -15 A7.5 15 0 0 0 0 15 L30.3 15 Z"/><path d="M26.3 -19 L54.2 -19 A17.1 19 0 0 1 54.2 19 L26.3 19 A10.3 19 0 0 1 26.3 -19 Z"/><ellipse cx="54.2" cy="0" rx="17.1" ry="19"/></g>
<g transform="translate(2085 1440) rotate(51.3)" class="l"><path d="M24 -22 A4.8 22 0 0 0 24 22 Z"/><path d="M28 -17 L0 -17 A8.5 17 0 0 0 0 17 L28 17 Z"/><path d="M24 -22 L60.2 -22 Q67.9 0 60.2 22 L24 22 A4.8 22 0 0 0 24 -22 Z"/></g>
<g transform="translate(2130 1440) rotate(71)" class="l"><path d="M21.4 -22 A4.8 22 0 0 0 21.4 22 Z"/><path d="M25.4 -17 L0 -17 A8.5 17 0 0 0 0 17 L25.4 17 Z"/><path d="M21.4 -22 L57.5 -22 Q65.2 0 57.5 22 L21.4 22 A4.8 22 0 0 0 21.4 -22 Z"/></g>
<g transform="translate(2000 1503) rotate(48.7)" class="l"><path d="M35.8 -21 A4.6 21 0 0 0 35.8 21 Z"/><path d="M39.8 -16 L0 -16 A8 16 0 0 0 0 16 L39.8 16 Z"/><path d="M35.8 -21 L72.1 -21 Q79.5 0 72.1 21 L35.8 21 A4.6 21 0 0 0 35.8 -21 Z"/></g>
<use href="#w33" class="o"/><use href="#w33" class="i"/>
<use href="#w2" class="o"/><use href="#w2" class="i"/>
<use href="#w8" class="o"/><use href="#w8" class="i"/>
<g transform="translate(1917 1650) rotate(-118.7)" class="l"><path d="M64.5 -17 L0 -17 A8.5 17 0 0 0 0 17 L64.5 17 Z"/><path d="M60.5 -20 L94.5 -20 A16 20 0 0 1 94.5 20 L60.5 20 A9.6 20 0 0 1 60.5 -20 Z"/><ellipse cx="94.5" cy="0" rx="16" ry="20"/></g>
<use href="#w34" class="o"/><use href="#w34" class="i"/>
<use href="#w3" class="o"/><use href="#w3" class="i"/>
<use href="#w4" class="o"/><use href="#w4" class="i"/>
<use href="#w10" class="o"/><use href="#w10" class="i"/>
<g transform="translate(1787 760) rotate(-66.2)" class="l"><path d="M45.8 -16 L0 -16 A8 16 0 0 0 0 16 L45.8 16 Z"/><path d="M41.8 -19 L74.7 -19 A17.1 19 0 0 1 74.7 19 L41.8 19 A10.3 19 0 0 1 41.8 -19 Z"/><ellipse cx="74.7" cy="0" rx="17.1" ry="19"/></g>
<g transform="translate(1819 797) rotate(118.2)" class="l"><path d="M69.8 -23 A5.1 23 0 0 0 69.8 23 Z"/><path d="M73.8 -17 L0 -17 A8.5 17 0 0 0 0 17 L73.8 17 Z"/><path d="M69.8 -23 L120.8 -23 Q128.9 0 120.8 23 L69.8 23 A5.1 23 0 0 0 69.8 -23 Z"/></g>
<g transform="translate(1876 982) rotate(-65.9)" class="l"><path d="M37.4 -17 L0 -17 A8.5 17 0 0 0 0 17 L37.4 17 Z"/><path d="M33.4 -22 L55.8 -22 A17.6 22 0 0 1 55.8 22 L33.4 22 A10.6 22 0 0 1 33.4 -22 Z"/><ellipse cx="55.8" cy="0" rx="17.6" ry="22"/></g>
<g transform="translate(1590 890) rotate(-146.3)" class="l"><path d="M53.8 -14 L0 -14 A7 14 0 0 0 0 14 L53.8 14 Z"/><path d="M49.8 -23 L98 -23 A13.8 23 0 0 1 98 23 L49.8 23 A8.3 23 0 0 1 49.8 -23 Z"/><ellipse cx="98" cy="0" rx="13.8" ry="23"/></g>
<g transform="translate(1460 972) rotate(-166)" class="l"><path d="M41 -12 L0 -12 A6 12 0 0 0 0 12 L41 12 Z"/><path d="M37 -22 L80.3 -22 A18.7 22 0 0 1 80.3 22 L37 22 A11.2 22 0 0 1 37 -22 Z"/><ellipse cx="80.3" cy="0" rx="18.7" ry="22"/></g>
<g transform="translate(1247 860) rotate(39)" class="l"><path d="M87.1 -15.5 L0 -15.5 A7.8 15.5 0 0 0 0 15.5 L87.1 15.5 Z"/><path d="M83.1 -22 L123 -22 A12.1 22 0 0 1 123 22 L83.1 22 A7.3 22 0 0 1 83.1 -22 Z"/><ellipse cx="123" cy="0" rx="12.1" ry="22"/></g>
<g transform="translate(1119 719) rotate(51.5)" class="l"><path d="M83.7 -15.5 L0 -15.5 A7.8 15.5 0 0 0 0 15.5 L83.7 15.5 Z"/><path d="M79.7 -22 L124 -22 A7.7 22 0 0 1 124 22 L79.7 22 A4.6 22 0 0 1 79.7 -22 Z"/><ellipse cx="124" cy="0" rx="7.7" ry="22"/></g>
<g transform="translate(995 1312) rotate(-47.5)" class="l"><path d="M84.2 -17.5 L0 -17.5 A8.8 17.5 0 0 0 0 17.5 L84.2 17.5 Z"/><path d="M80.2 -21 L120.8 -21 A9.5 21 0 0 1 120.8 21 L80.2 21 A5.7 21 0 0 1 80.2 -21 Z"/><ellipse cx="120.8" cy="0" rx="9.5" ry="21"/></g>
<g transform="translate(1935 1420) rotate(-136.2)" class="l"><path d="M80.4 -16.5 L0 -16.5 A8.2 16.5 0 0 0 0 16.5 L80.4 16.5 Z"/><path d="M76.4 -23 L121.7 -23 A12.7 23 0 0 1 121.7 23 L76.4 23 A7.6 23 0 0 1 76.4 -23 Z"/><ellipse cx="121.7" cy="0" rx="12.7" ry="23"/></g>
<g transform="translate(747 1086) rotate(-30.3)" class="l"><path d="M90.9 -16 L0 -16 A8 16 0 0 0 0 16 L90.9 16 Z"/><path d="M86.9 -21.5 L129.2 -21.5 A9.7 21.5 0 0 1 129.2 21.5 L86.9 21.5 A5.8 21.5 0 0 1 86.9 -21.5 Z"/><ellipse cx="129.2" cy="0" rx="9.7" ry="21.5"/></g>
<g transform="translate(727 1200) rotate(-55.1)" class="l"><path d="M21.4 -14 L0 -14 A7 14 0 0 0 0 14 L21.4 14 Z"/><path d="M17.4 -18 L36.2 -18 A16.2 18 0 0 1 36.2 18 L17.4 18 A9.7 18 0 0 1 17.4 -18 Z"/><ellipse cx="36.2" cy="0" rx="16.2" ry="18"/></g>
<g transform="translate(862 1212) rotate(66.6)" class="l"><path d="M32 -15 L0 -15 A7.5 15 0 0 0 0 15 L32 15 Z"/><path d="M28 -22 L55.4 -22 A17.6 22 0 0 1 55.4 22 L28 22 A10.6 22 0 0 1 28 -22 Z"/><ellipse cx="55.4" cy="0" rx="17.6" ry="22"/></g>
<g transform="translate(850 1298) rotate(95.6)" class="l"><path d="M25.3 -15 L0 -15 A7.5 15 0 0 0 0 15 L25.3 15 Z"/><path d="M21.3 -21.5 L54.6 -21.5 A16.8 21.5 0 0 1 54.6 21.5 L21.3 21.5 A10.1 21.5 0 0 1 21.3 -21.5 Z"/><ellipse cx="54.6" cy="0" rx="16.8" ry="21.5"/></g>
<g transform="translate(1995 1650) rotate(-138.5)" class="l"><path d="M72.2 -17 L0 -17 A8.5 17 0 0 0 0 17 L72.2 17 Z"/><path d="M68.2 -22 L115 -22 A13.2 22 0 0 1 115 22 L68.2 22 A7.9 22 0 0 1 68.2 -22 Z"/><ellipse cx="115" cy="0" rx="13.2" ry="22"/></g>
<g transform="translate(2388 1237) rotate(63.7)" class="l"><path d="M67.2 -23 A5.1 23 0 0 0 67.2 23 Z"/><path d="M71.2 -17 L0 -17 A8.5 17 0 0 0 0 17 L71.2 17 Z"/><path d="M67.2 -23 L113.1 -23 Q121.2 0 113.1 23 L67.2 23 A5.1 23 0 0 0 67.2 -23 Z"/></g>
<g transform="translate(2306 938) rotate(-69.8)" class="l"><path d="M70.1 -17 L0 -17 A8.5 17 0 0 0 0 17 L70.1 17 Z"/><path d="M66.1 -22 L107.3 -22 A8.8 22 0 0 1 107.3 22 L66.1 22 A5.3 22 0 0 1 66.1 -22 Z"/><ellipse cx="107.3" cy="0" rx="8.8" ry="22"/></g>
<g transform="translate(2150 1050) rotate(-68.2)" class="l"><path d="M34.8 -18 L0 -18 A9 18 0 0 0 0 18 L34.8 18 Z"/><path d="M30.8 -23 L67 -23 A13.8 23 0 0 1 67 23 L30.8 23 A8.3 23 0 0 1 30.8 -23 Z"/><ellipse cx="67" cy="0" rx="13.8" ry="23"/></g>
<g transform="translate(2318 1160) rotate(131.5)" class="l"><path d="M18.4 -17 L0 -17 A8.5 17 0 0 0 0 17 L18.4 17 Z"/><path d="M14.4 -20 L52.4 -20 A17 20 0 0 1 52.4 20 L14.4 20 A10.2 20 0 0 1 14.4 -20 Z"/><ellipse cx="52.4" cy="0" rx="17" ry="20"/></g>
<use href="#w35" class="o"/><use href="#w35" class="i"/>
<use href="#w36" class="o"/><use href="#w36" class="i"/>
<use href="#w37" class="o"/><use href="#w37" class="i"/>
<use href="#w38" class="o"/><use href="#w38" class="i"/>
<use href="#w39" class="o"/><use href="#w39" class="i"/>
<g transform="translate(2381 1629) rotate(-119)" class="l"><path d="M0 -65 L98 -65 A32.5 65 0 0 1 98 65 L0 65 A32.5 65 0 0 1 0 -65 Z"/><ellipse cx="0" cy="0" rx="32.5" ry="65"/><path d="M9.4 -65 A32.5 65 0 0 1 9.4 65" style="fill:none;stroke-width:3.6"/><path d="M18.8 -65 A32.5 65 0 0 1 18.8 65" style="fill:none;stroke-width:3.6"/><path d="M28.3 -65 A32.5 65 0 0 1 28.3 65" style="fill:none;stroke-width:3.6"/><path d="M37.7 -65 A32.5 65 0 0 1 37.7 65" style="fill:none;stroke-width:3.6"/><path d="M47.1 -65 A32.5 65 0 0 1 47.1 65" style="fill:none;stroke-width:3.6"/><path d="M56.5 -65 A32.5 65 0 0 1 56.5 65" style="fill:none;stroke-width:3.6"/><path d="M66 -65 A32.5 65 0 0 1 66 65" style="fill:none;stroke-width:3.6"/><path d="M75.4 -65 A32.5 65 0 0 1 75.4 65" style="fill:none;stroke-width:3.6"/><path d="M84.8 -65 A32.5 65 0 0 1 84.8 65" style="fill:none;stroke-width:3.6"/><path d="M94.2 -65 A32.5 65 0 0 1 94.2 65" style="fill:none;stroke-width:3.6"/><ellipse cx="0" cy="0" rx="32.5" ry="65" style="stroke-width:3"/><ellipse cx="1" cy="0" rx="28" ry="56"/><ellipse cx="3" cy="0" rx="22" ry="44"/><path d="M10 -40 A20 42 0 0 1 10 40" fill="none"/><ellipse cx="6" cy="-18" rx="4" ry="7.5"/><ellipse cx="6" cy="18" rx="4" ry="7.5"/></g>
<g transform="translate(2259 1546) rotate(8.7)" class="l"><path d="M0.6 -23 A5.1 23 0 0 0 0.6 23 Z"/><path d="M0.6 -23 L48.6 -23 Q56.7 0 48.6 23 L0.6 23 A5.1 23 0 0 0 0.6 -23 Z"/></g>
<path d="M544 365.2H736L1162.5 705" fill="none" stroke="#232323" stroke-width="1.5"/>
<g class="t"><text transform="translate(575.6 345.9) scale(0.64 1)" x="0 48.75">20</text><text transform="translate(647.3 345.9) scale(0.585 1.1)"> m</text></g>
</svg></body></html>
